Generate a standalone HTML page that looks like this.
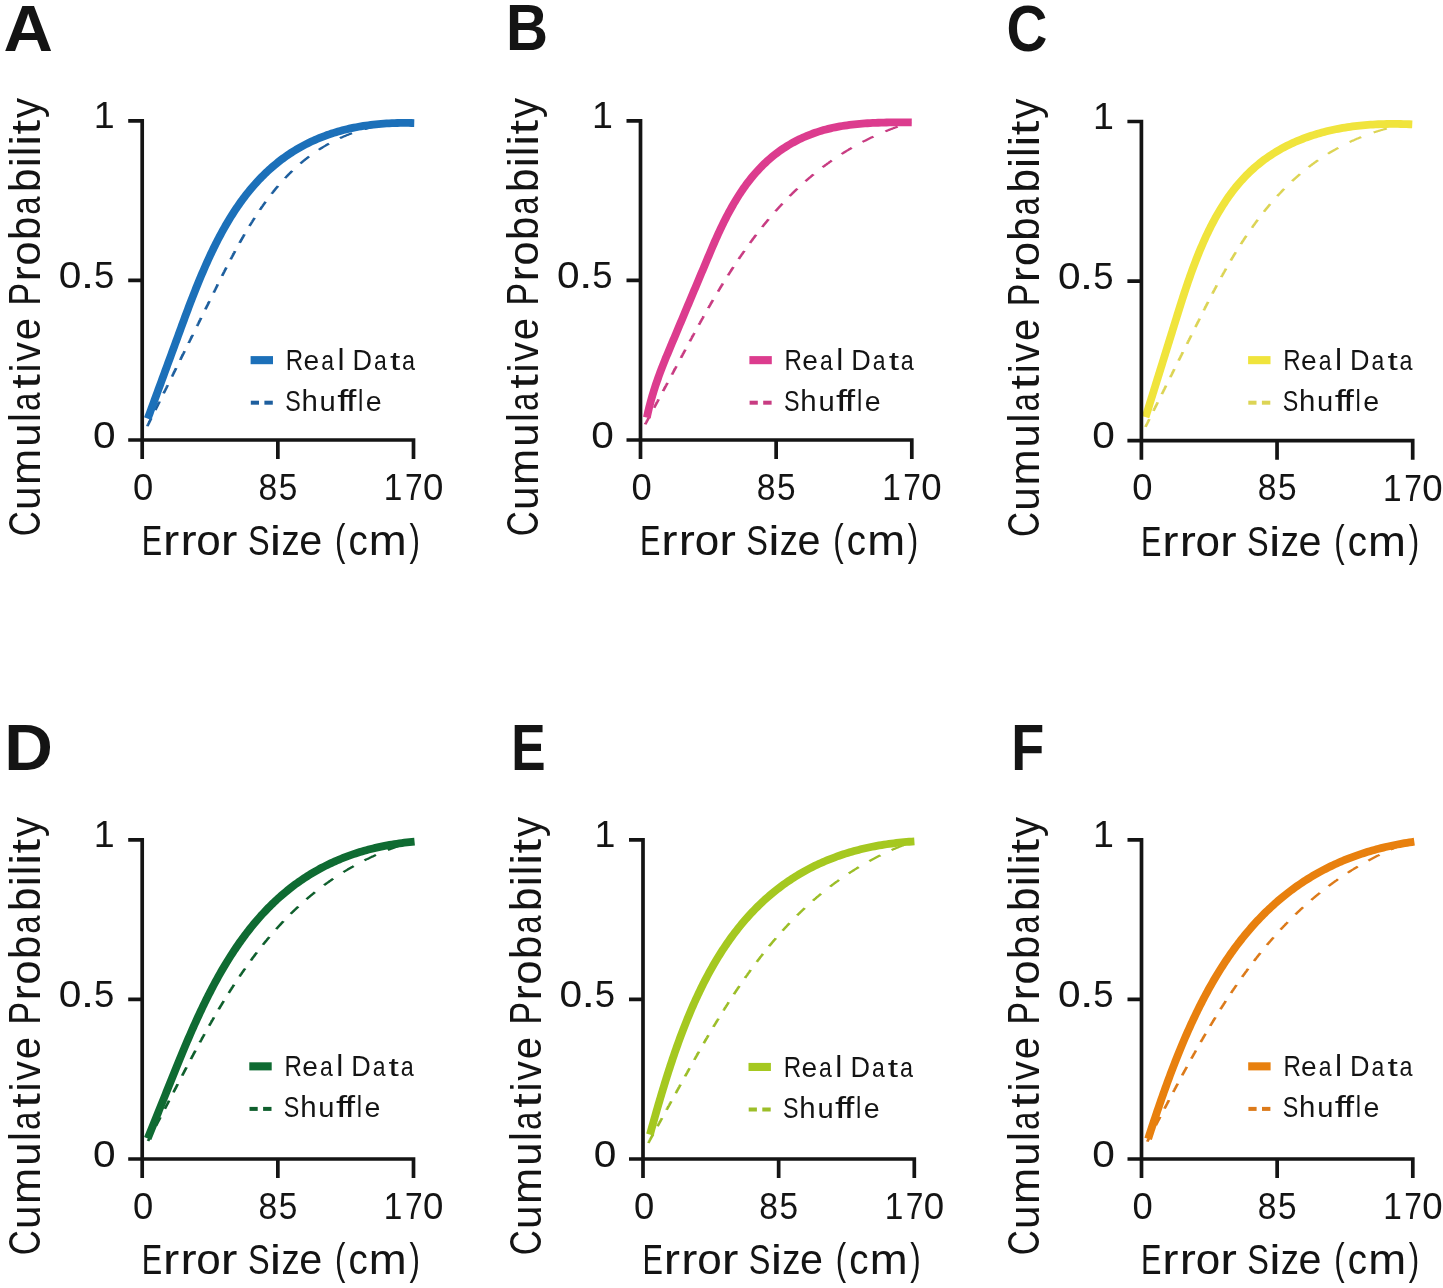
<!DOCTYPE html>
<html><head><meta charset="utf-8"><title>Cumulative probability panels</title>
<style>html,body{margin:0;padding:0;background:#fff;overflow:hidden}svg{display:block;will-change:transform}text{font-family:"Liberation Sans",sans-serif;fill:#141414;font-kerning:none}</style>
</head><body>
<svg xmlns="http://www.w3.org/2000/svg" width="1443" height="1288" viewBox="0 0 1443 1288">
<rect width="1443" height="1288" fill="#fff"/>
<!-- panel A -->
<g transform="scale(1.35,1)"><path d="M109.07,426.25 L109.19,425.93 L109.31,425.62 L109.43,425.30 L109.54,424.98 L109.66,424.67 L109.78,424.35 L109.89,424.03 L110.01,423.71 L110.13,423.40 L110.24,423.08 L110.36,422.76 L110.48,422.45 L110.59,422.13 L110.71,421.81 L110.83,421.50 L110.94,421.18 L111.06,420.86 L111.18,420.54 L111.29,420.23 L111.41,419.91 L111.53,419.59 L111.64,419.28 L111.76,418.96 L111.88,418.64 L111.99,418.33 M115.03,410.08 L115.15,409.77 L115.26,409.45 L115.38,409.13 L115.50,408.81 L115.61,408.50 L115.73,408.18 L115.85,407.86 L115.96,407.55 L116.08,407.23 L116.20,406.91 L116.31,406.60 L116.43,406.28 L116.55,405.96 L116.66,405.64 L116.78,405.33 L116.90,405.01 L117.01,404.69 L117.13,404.38 L117.25,404.06 L117.37,403.74 L117.48,403.43 L117.60,403.11 L117.72,402.79 L117.83,402.47 L117.95,402.16 L118.07,401.84 L118.18,401.52 M121.22,393.28 L121.34,392.96 L121.45,392.65 L121.57,392.33 L121.69,392.01 L121.80,391.70 L121.92,391.38 L122.04,391.06 L122.15,390.74 L122.27,390.43 L122.39,390.11 L122.50,389.79 L122.62,389.48 L122.74,389.16 L122.85,388.84 L122.97,388.53 L123.09,388.21 L123.20,387.89 L123.32,387.57 L123.44,387.26 L123.55,386.94 L123.67,386.62 L123.79,386.31 L123.90,385.99 L124.02,385.67 L124.14,385.36 L124.25,385.04 M127.36,376.61 L127.48,376.29 L127.59,375.97 L127.71,375.65 L127.83,375.34 L127.94,375.02 L128.06,374.70 L128.18,374.39 L128.29,374.07 L128.41,373.75 L128.53,373.44 L128.64,373.12 L128.76,372.80 L128.88,372.48 L128.99,372.17 L129.11,371.85 L129.23,371.53 L129.35,371.22 L129.46,370.90 L129.58,370.58 L129.70,370.27 L129.81,369.95 L129.93,369.63 L130.05,369.31 L130.16,369.00 L130.28,368.68 L130.40,368.36 L130.51,368.05 M133.55,359.80 L133.67,359.49 L133.78,359.17 L133.90,358.85 L134.02,358.54 L134.13,358.22 L134.25,357.90 L134.37,357.58 L134.48,357.27 L134.60,356.95 L134.72,356.63 L134.83,356.32 L134.95,356.00 L135.07,355.68 L135.18,355.37 L135.30,355.05 L135.42,354.73 L135.53,354.41 L135.65,354.10 L135.77,353.78 L135.88,353.46 L136.00,353.15 L136.12,352.83 L136.23,352.51 L136.35,352.19 L136.47,351.88 L136.58,351.56 L136.70,351.24 M139.74,343.00 L139.85,342.68 L139.97,342.37 L140.09,342.05 L140.20,341.73 L140.32,341.42 L140.44,341.10 L140.55,340.78 L140.67,340.47 L140.79,340.15 L140.91,339.83 L141.02,339.51 L141.14,339.20 L141.26,338.88 L141.37,338.56 L141.49,338.25 L141.61,337.93 L141.72,337.61 L141.84,337.30 L141.96,336.98 L142.07,336.66 L142.19,336.34 L142.31,336.03 L142.42,335.71 L142.54,335.39 L142.66,335.08 L142.77,334.76 M145.93,326.20 L146.04,325.88 L146.16,325.57 L146.28,325.25 L146.39,324.93 L146.51,324.61 L146.63,324.30 L146.74,323.98 L146.86,323.66 L146.98,323.35 L147.09,323.03 L147.21,322.71 L147.33,322.40 L147.44,322.08 L147.56,321.76 L147.68,321.44 L147.79,321.13 L147.91,320.81 L148.03,320.49 L148.14,320.18 L148.26,319.86 L148.38,319.54 L148.49,319.22 L148.61,318.91 L148.73,318.59 L148.85,318.27 L148.96,317.96 M152.11,309.40 L152.23,309.08 L152.35,308.76 L152.46,308.45 L152.58,308.13 L152.70,307.81 L152.82,307.50 L152.93,307.18 L153.05,306.86 L153.17,306.54 L153.28,306.23 L153.40,305.91 L153.52,305.59 L153.63,305.28 L153.75,304.96 L153.87,304.64 L153.98,304.32 L154.10,304.01 L154.22,303.69 L154.33,303.37 L154.45,303.06 L154.57,302.74 L154.68,302.42 L154.80,302.11 L154.92,301.79 L155.03,301.47 L155.15,301.15 M158.30,292.60 L158.42,292.28 L158.54,291.96 L158.65,291.64 L158.77,291.33 L158.89,291.01 L159.00,290.69 L159.12,290.38 L159.24,290.06 L159.35,289.74 L159.47,289.42 L159.59,289.11 L159.70,288.79 L159.82,288.47 L159.94,288.16 L160.05,287.84 L160.17,287.52 L160.29,287.21 L160.41,286.89 L160.52,286.57 L160.64,286.26 L160.76,285.94 L160.87,285.62 L160.99,285.31 L161.11,284.99 L161.22,284.67 L161.34,284.36 M164.48,275.97 L164.60,275.65 L164.72,275.34 L164.84,275.02 L164.95,274.71 L165.07,274.39 L165.19,274.08 L165.31,273.77 L165.43,273.45 L165.55,273.14 L165.67,272.82 L165.79,272.51 L165.91,272.20 L166.03,271.88 L166.15,271.57 L166.26,271.26 L166.38,270.94 L166.50,270.63 L166.62,270.32 L166.74,270.00 L166.86,269.69 L166.98,269.38 L167.10,269.06 L167.22,268.75 L167.34,268.44 L167.46,268.13 L167.58,267.81 L167.70,267.50 M170.85,259.41 L170.97,259.10 L171.09,258.79 L171.21,258.48 L171.34,258.17 L171.46,257.86 L171.58,257.55 L171.70,257.24 L171.82,256.93 L171.95,256.62 L172.07,256.31 L172.19,256.00 L172.31,255.69 L172.44,255.38 L172.56,255.07 L172.68,254.76 L172.81,254.46 L172.93,254.15 L173.05,253.84 L173.18,253.53 L173.30,253.22 L173.42,252.91 L173.55,252.61 L173.67,252.30 L173.79,251.99 L173.92,251.68 L174.04,251.38 L174.16,251.07 M177.54,242.81 L177.67,242.51 L177.79,242.20 L177.92,241.90 L178.05,241.59 L178.17,241.29 L178.30,240.99 L178.43,240.68 L178.55,240.38 L178.68,240.08 L178.81,239.78 L178.94,239.47 L179.06,239.17 L179.19,238.87 L179.32,238.57 L179.45,238.26 L179.57,237.96 L179.70,237.66 L179.83,237.36 L179.96,237.06 L180.09,236.76 L180.22,236.46 L180.34,236.15 L180.47,235.85 L180.60,235.55 L180.73,235.25 L180.86,234.95 L180.99,234.65 L181.12,234.35 M184.80,226.03 L184.93,225.73 L185.06,225.44 L185.20,225.14 L185.33,224.85 L185.46,224.55 L185.60,224.26 L185.73,223.97 L185.87,223.67 L186.00,223.38 L186.14,223.09 L186.27,222.80 L186.41,222.50 L186.54,222.21 L186.68,221.92 L186.81,221.63 L186.95,221.34 L187.08,221.04 L187.22,220.75 L187.36,220.46 L187.49,220.17 L187.63,219.88 L187.76,219.59 L187.90,219.30 L188.04,219.01 L188.18,218.72 L188.31,218.43 L188.45,218.14 L188.59,217.85 M192.51,209.86 L192.65,209.57 L192.79,209.29 L192.94,209.01 L193.08,208.73 L193.22,208.45 L193.37,208.17 L193.51,207.89 L193.66,207.61 L193.80,207.33 L193.94,207.05 L194.09,206.77 L194.23,206.49 L194.38,206.21 L194.52,205.93 L194.67,205.65 L194.81,205.37 L194.96,205.10 L195.11,204.82 L195.25,204.54 L195.40,204.27 L195.55,203.99 L195.69,203.71 L195.84,203.44 L195.99,203.16 L196.13,202.88 L196.28,202.61 L196.43,202.33 L196.58,202.06 L196.73,201.78 M201.21,193.79 L201.37,193.52 L201.52,193.26 L201.68,192.99 L201.83,192.73 L201.99,192.47 L202.14,192.20 L202.30,191.94 L202.46,191.68 L202.61,191.41 L202.77,191.15 L202.93,190.89 L203.09,190.63 L203.32,190.23 L203.56,189.84 L203.80,189.45 L204.04,189.06 L204.28,188.67 L204.52,188.28 L204.76,187.90 L205.00,187.51 L205.24,187.12 L205.48,186.74 L205.72,186.35 L205.96,185.97 M211.20,178.09 L211.46,177.72 L211.72,177.36 L211.97,176.99 L212.23,176.63 L212.49,176.27 L212.75,175.90 L213.01,175.54 L213.27,175.18 L213.53,174.82 L213.79,174.47 L214.06,174.11 L214.32,173.75 L214.58,173.40 L214.85,173.04 L215.11,172.69 L215.38,172.33 L215.65,171.98 L215.91,171.63 L216.18,171.28 L216.45,170.93 M222.54,163.48 L222.82,163.16 L223.11,162.83 L223.39,162.50 L223.68,162.18 L223.97,161.86 L224.26,161.53 L224.54,161.21 L224.83,160.89 L225.13,160.57 L225.42,160.25 L225.71,159.94 L226.00,159.62 L226.30,159.30 L226.59,158.99 L226.89,158.68 L227.18,158.37 L227.48,158.05 L227.78,157.74 L228.08,157.43 L228.37,157.13 L228.67,156.82 L228.98,156.51 M236.12,149.78 L236.44,149.50 L236.76,149.23 L237.08,148.95 L237.41,148.67 L237.73,148.40 L238.06,148.12 L238.38,147.85 L238.71,147.58 L239.04,147.31 L239.36,147.04 L239.69,146.78 L240.02,146.51 L240.35,146.24 L240.69,145.98 L241.02,145.72 L241.35,145.46 L241.69,145.20 L242.02,144.94 L242.36,144.68 L242.70,144.42 L243.03,144.17 L243.37,143.91 L243.71,143.66 M251.79,138.18 L252.15,137.96 L252.51,137.74 L252.88,137.52 L253.24,137.30 L253.61,137.08 L253.98,136.87 L254.35,136.65 L254.71,136.44 L255.08,136.23 L255.46,136.02 L255.83,135.81 L256.20,135.60 L256.58,135.39 L256.95,135.19 L257.33,134.98 L257.70,134.78 L258.08,134.58 L258.46,134.38 L258.84,134.18 L259.22,133.98 L259.61,133.79 L259.99,133.59 L260.37,133.40 L260.76,133.21 M270.08,129.13 L270.49,128.97 L270.90,128.82 L271.31,128.66 L271.73,128.51 L272.14,128.36 L272.56,128.21 L272.98,128.06 L273.40,127.92 L273.82,127.77 L274.24,127.63 L274.66,127.48 L275.09,127.35 L275.51,127.21 L275.94,127.07 L276.36,126.93 L276.79,126.80 L277.22,126.67 L277.65,126.54 L278.08,126.40 L278.51,126.28 L278.95,126.15 L279.38,126.03 L279.82,125.90 L280.26,125.78 M290.63,123.41 L291.10,123.33 L291.56,123.24 L292.03,123.17 L292.50,123.09 L292.97,123.01 L293.44,122.93 L293.91,122.86 L294.39,122.79 L294.86,122.72 L295.34,122.65 L295.82,122.58 L296.30,122.52 L296.78,122.45 L297.26,122.39 L297.74,122.33 L298.22,122.27 L298.71,122.21 L299.20,122.16 L299.68,122.10 L300.17,122.05 L300.66,122.00 L301.15,121.95" fill="none" stroke="#1e5f9e" stroke-width="2.1" stroke-linecap="butt" stroke-linejoin="round"/></g>
<g transform="scale(1.0,1)"><path d="M147.71,418.71 L148.47,416.66 L149.22,414.60 L149.98,412.54 L150.73,410.48 L151.49,408.42 L152.24,406.37 L153.00,404.31 L153.75,402.25 L154.51,400.19 L155.26,398.14 L156.01,396.08 L156.84,393.81 L157.60,391.76 L158.35,389.70 L159.11,387.64 L159.86,385.58 L160.62,383.53 L161.37,381.47 L162.13,379.41 L162.88,377.35 L163.64,375.29 L164.39,373.24 L165.15,371.18 L165.90,369.12 L166.66,367.06 L167.41,365.01 L168.16,362.95 L168.92,360.89 L169.67,358.83 L170.43,356.78 L171.18,354.72 L171.94,352.66 L172.69,350.60 L173.52,348.34 L174.28,346.28 L175.03,344.22 L175.79,342.17 L176.54,340.11 L177.30,338.05 L178.05,335.99 L178.81,333.93 L179.56,331.88 L180.31,329.82 L181.07,327.76 L181.82,325.70 L182.58,323.65 L183.33,321.59 L184.09,319.53 L184.85,317.48 L185.61,315.42 L186.37,313.38 L187.14,311.33 L187.90,309.28 L188.67,307.24 L189.45,305.20 L190.30,302.96 L191.08,300.93 L191.86,298.90 L192.65,296.88 L193.44,294.85 L194.23,292.83 L195.03,290.82 L195.83,288.81 L196.64,286.80 L197.45,284.80 L198.26,282.80 L199.08,280.80 L199.90,278.81 L200.73,276.83 L201.56,274.85 L202.40,272.88 L203.24,270.91 L204.09,268.94 L204.95,266.99 L205.81,265.03 L206.67,263.09 L207.55,261.15 L208.51,259.02 L209.40,257.09 L210.29,255.18 L211.19,253.26 L212.10,251.36 L213.01,249.46 L213.93,247.57 L214.86,245.68 L215.80,243.81 L216.75,241.94 L217.70,240.08 L218.66,238.23 L219.63,236.39 L220.61,234.55 L221.59,232.73 L222.59,230.91 L223.59,229.10 L224.61,227.30 L225.63,225.52 L226.67,223.74 L227.71,221.97 L228.76,220.21 L229.93,218.28 L231.01,216.55 L232.09,214.82 L233.19,213.10 L234.29,211.40 L235.41,209.70 L236.54,208.02 L237.68,206.34 L238.83,204.68 L239.99,203.03 L241.17,201.40 L242.35,199.77 L243.55,198.16 L244.76,196.56 L245.99,194.97 L247.23,193.39 L248.47,191.83 L249.74,190.28 L251.01,188.74 L252.30,187.22 L253.60,185.71 L254.92,184.21 L256.39,182.58 L257.73,181.12 L259.09,179.67 L260.47,178.23 L261.85,176.80 L263.26,175.39 L264.68,174.00 L266.11,172.62 L267.56,171.26 L269.02,169.91 L270.50,168.58 L272.00,167.26 L273.51,165.96 L275.04,164.68 L276.58,163.41 L278.14,162.15 L279.72,160.92 L281.31,159.70 L282.92,158.50 L284.55,157.31 L286.19,156.14 L287.86,154.99 L289.70,153.75 L291.40,152.63 L293.12,151.54 L294.85,150.46 L296.61,149.40 L298.38,148.36 L300.17,147.34 L301.97,146.33 L303.80,145.35 L305.65,144.38 L307.51,143.43 L309.39,142.50 L311.30,141.59 L313.22,140.70 L315.16,139.83 L317.12,138.98 L319.11,138.15 L321.11,137.34 L323.13,136.55 L325.18,135.78 L327.24,135.04 L329.32,134.31 L331.64,133.53 L333.77,132.85 L335.92,132.19 L338.09,131.55 L340.29,130.93 L342.50,130.33 L344.74,129.75 L347.00,129.20 L349.28,128.67 L351.58,128.16 L353.91,127.68 L356.26,127.21 L358.63,126.77 L361.02,126.35 L363.44,125.96 L365.88,125.59 L368.35,125.24 L370.83,124.91 L373.35,124.61 L375.88,124.34 L378.44,124.08 L381.02,123.85 L383.89,123.63 L386.53,123.45 L389.19,123.30 L391.87,123.17 L394.58,123.07 L397.31,122.99 L400.07,122.94 L402.86,122.91 L405.67,122.91 L408.50,122.93 L411.36,122.98 L414.25,123.05" fill="none" stroke="#1c70b9" stroke-width="7.8" stroke-linecap="butt" stroke-linejoin="round"/></g>
<path d="M142.20,118.95 L142.20,459.00 M128.20,440.00 L415.35,440.00 M128.20,120.80 L144.05,120.80 M128.20,280.40 L144.05,280.40 M277.85,438.15 L277.85,459.00 M413.50,438.15 L413.50,459.00" fill="none" stroke="#141414" stroke-width="3.7" stroke-linecap="butt"/>
<text x="93.74" y="127.80" font-size="36.60" textLength="20.90" lengthAdjust="spacingAndGlyphs">1</text>
<text x="58.81" y="287.80" font-size="36.60" textLength="22.57" lengthAdjust="spacingAndGlyphs">0</text>
<text x="80.40" y="287.80" font-size="36.60" textLength="14.01" lengthAdjust="spacingAndGlyphs">.</text>
<text x="93.94" y="287.80" font-size="36.60" textLength="20.29" lengthAdjust="spacingAndGlyphs">5</text>
<text x="93.01" y="447.50" font-size="36.60" textLength="22.57" lengthAdjust="spacingAndGlyphs">0</text>
<text x="133.08" y="499.60" font-size="36.60" textLength="20.24" lengthAdjust="spacingAndGlyphs">0</text>
<text x="258.44" y="499.60" font-size="36.60" textLength="18.73" lengthAdjust="spacingAndGlyphs">8</text>
<text x="278.77" y="499.60" font-size="36.60" textLength="18.53" lengthAdjust="spacingAndGlyphs">5</text>
<text x="383.86" y="499.80" font-size="36.60" textLength="18.57" lengthAdjust="spacingAndGlyphs">1</text>
<text x="404.98" y="499.80" font-size="36.60" textLength="17.62" lengthAdjust="spacingAndGlyphs">7</text>
<text x="422.97" y="499.80" font-size="36.60" textLength="20.36" lengthAdjust="spacingAndGlyphs">0</text>
<text x="141.69" y="554.80" font-size="43.30" textLength="20.43" lengthAdjust="spacingAndGlyphs">E</text>
<text x="163.06" y="554.80" font-size="41.90" textLength="16.25" lengthAdjust="spacingAndGlyphs">r</text>
<text x="180.49" y="554.80" font-size="41.90" textLength="16.12" lengthAdjust="spacingAndGlyphs">r</text>
<text x="196.35" y="554.80" font-size="41.90" textLength="24.50" lengthAdjust="spacingAndGlyphs">o</text>
<text x="220.88" y="554.80" font-size="41.90" textLength="16.65" lengthAdjust="spacingAndGlyphs">r</text>
<text x="247.92" y="554.80" font-size="43.30" textLength="21.67" lengthAdjust="spacingAndGlyphs">S</text>
<text x="269.88" y="554.80" font-size="40.60" textLength="11.37" lengthAdjust="spacingAndGlyphs">i</text>
<text x="281.53" y="554.80" font-size="41.90" textLength="18.19" lengthAdjust="spacingAndGlyphs">z</text>
<text x="299.24" y="554.80" font-size="41.90" textLength="22.99" lengthAdjust="spacingAndGlyphs">e</text>
<text x="334.96" y="554.80" font-size="43.70" textLength="10.42" lengthAdjust="spacingAndGlyphs">(</text>
<text x="348.46" y="554.80" font-size="41.90" textLength="19.25" lengthAdjust="spacingAndGlyphs">c</text>
<text x="368.88" y="554.80" font-size="41.90" textLength="37.92" lengthAdjust="spacingAndGlyphs">m</text>
<text x="409.52" y="554.80" font-size="43.70" textLength="10.42" lengthAdjust="spacingAndGlyphs">)</text>
<text transform="translate(40.00,536.26) rotate(-90)" x="0" y="0" font-size="43.50" textLength="25.09" lengthAdjust="spacingAndGlyphs">C</text>
<text transform="translate(40.00,509.95) rotate(-90)" x="0" y="0" font-size="42.20" textLength="23.57" lengthAdjust="spacingAndGlyphs">u</text>
<text transform="translate(40.00,484.89) rotate(-90)" x="0" y="0" font-size="42.20" textLength="36.26" lengthAdjust="spacingAndGlyphs">m</text>
<text transform="translate(40.00,446.71) rotate(-90)" x="0" y="0" font-size="42.20" textLength="23.17" lengthAdjust="spacingAndGlyphs">u</text>
<text transform="translate(40.00,421.88) rotate(-90)" x="0" y="0" font-size="44.30" textLength="8.85" lengthAdjust="spacingAndGlyphs">l</text>
<text transform="translate(40.00,410.91) rotate(-90)" x="0" y="0" font-size="42.20" textLength="18.41" lengthAdjust="spacingAndGlyphs">a</text>
<text transform="translate(40.00,388.79) rotate(-90)" x="0" y="0" font-size="40.90" textLength="14.58" lengthAdjust="spacingAndGlyphs">t</text>
<text transform="translate(40.00,372.19) rotate(-90)" x="0" y="0" font-size="42.80" textLength="8.59" lengthAdjust="spacingAndGlyphs">i</text>
<text transform="translate(40.00,361.73) rotate(-90)" x="0" y="0" font-size="42.20" textLength="19.57" lengthAdjust="spacingAndGlyphs">v</text>
<text transform="translate(40.00,340.29) rotate(-90)" x="0" y="0" font-size="42.20" textLength="22.16" lengthAdjust="spacingAndGlyphs">e</text>
<text transform="translate(40.00,305.47) rotate(-90)" x="0" y="0" font-size="43.50" textLength="22.56" lengthAdjust="spacingAndGlyphs">P</text>
<text transform="translate(40.00,281.18) rotate(-90)" x="0" y="0" font-size="42.20" textLength="14.92" lengthAdjust="spacingAndGlyphs">r</text>
<text transform="translate(40.00,265.42) rotate(-90)" x="0" y="0" font-size="42.20" textLength="24.15" lengthAdjust="spacingAndGlyphs">o</text>
<text transform="translate(40.00,240.01) rotate(-90)" x="0" y="0" font-size="44.30" textLength="23.37" lengthAdjust="spacingAndGlyphs">b</text>
<text transform="translate(40.00,214.79) rotate(-90)" x="0" y="0" font-size="42.20" textLength="18.19" lengthAdjust="spacingAndGlyphs">a</text>
<text transform="translate(40.00,191.92) rotate(-90)" x="0" y="0" font-size="44.30" textLength="23.50" lengthAdjust="spacingAndGlyphs">b</text>
<text transform="translate(40.00,167.24) rotate(-90)" x="0" y="0" font-size="42.80" textLength="10.11" lengthAdjust="spacingAndGlyphs">i</text>
<text transform="translate(40.00,156.31) rotate(-90)" x="0" y="0" font-size="44.30" textLength="9.61" lengthAdjust="spacingAndGlyphs">l</text>
<text transform="translate(40.00,145.62) rotate(-90)" x="0" y="0" font-size="42.80" textLength="10.36" lengthAdjust="spacingAndGlyphs">i</text>
<text transform="translate(40.00,134.59) rotate(-90)" x="0" y="0" font-size="40.90" textLength="14.58" lengthAdjust="spacingAndGlyphs">t</text>
<text transform="translate(40.00,118.10) rotate(-90)" x="0" y="0" font-size="42.20" textLength="20.08" lengthAdjust="spacingAndGlyphs">y</text>
<rect x="250.60" y="356.10" width="22.4" height="8.1" fill="#1c70b9"/>
<rect x="250.80" y="400.70" width="8.2" height="4.0" fill="#1e5f9e"/>
<rect x="264.40" y="400.70" width="8.4" height="4.0" fill="#1e5f9e"/>
<text x="285.82" y="369.80" font-size="28.90" textLength="17.39" lengthAdjust="spacingAndGlyphs">R</text>
<text x="303.50" y="369.80" font-size="27.30" textLength="15.64" lengthAdjust="spacingAndGlyphs">e</text>
<text x="321.22" y="369.80" font-size="27.30" textLength="12.78" lengthAdjust="spacingAndGlyphs">a</text>
<text x="337.45" y="369.80" font-size="29.90" textLength="7.08" lengthAdjust="spacingAndGlyphs">l</text>
<text x="352.48" y="369.80" font-size="28.90" textLength="19.51" lengthAdjust="spacingAndGlyphs">D</text>
<text x="374.02" y="369.80" font-size="27.30" textLength="12.78" lengthAdjust="spacingAndGlyphs">a</text>
<text x="389.94" y="369.80" font-size="26.40" textLength="10.34" lengthAdjust="spacingAndGlyphs">t</text>
<text x="402.01" y="369.80" font-size="27.30" textLength="12.99" lengthAdjust="spacingAndGlyphs">a</text>
<text x="285.14" y="410.80" font-size="28.90" textLength="15.53" lengthAdjust="spacingAndGlyphs">S</text>
<text x="301.46" y="410.80" font-size="29.90" textLength="16.35" lengthAdjust="spacingAndGlyphs">h</text>
<text x="319.60" y="410.80" font-size="27.30" textLength="16.23" lengthAdjust="spacingAndGlyphs">u</text>
<text x="337.23" y="410.80" font-size="29.90" textLength="11.11" lengthAdjust="spacingAndGlyphs">f</text>
<text x="346.07" y="410.80" font-size="29.90" textLength="10.37" lengthAdjust="spacingAndGlyphs">f</text>
<text x="358.09" y="410.80" font-size="29.90" textLength="5.31" lengthAdjust="spacingAndGlyphs">l</text>
<text x="365.89" y="410.80" font-size="27.30" textLength="15.88" lengthAdjust="spacingAndGlyphs">e</text>
<text x="3.40" y="50.50" font-size="64.70" font-weight="bold" textLength="49.41" lengthAdjust="spacingAndGlyphs">A</text>
<!-- panel B -->
<g transform="scale(1.35,1)"><path d="M477.90,424.39 L478.02,424.09 L478.15,423.78 L478.27,423.47 L478.39,423.16 L478.52,422.85 L478.64,422.54 L478.76,422.24 L478.88,421.93 L479.01,421.62 L479.13,421.31 L479.25,421.00 L479.37,420.69 L479.50,420.39 L479.62,420.08 L479.74,419.77 L479.87,419.46 L479.99,419.15 L480.11,418.84 L480.23,418.54 L480.36,418.23 L480.48,417.92 L480.60,417.61 L480.73,417.30 L480.85,416.99 L480.97,416.69 L481.09,416.38 L481.22,416.07 M484.53,407.75 L484.65,407.44 L484.78,407.13 L484.90,406.82 L485.02,406.51 L485.14,406.21 L485.27,405.90 L485.39,405.59 L485.51,405.28 L485.63,404.97 L485.76,404.66 L485.88,404.36 L486.00,404.05 L486.13,403.74 L486.25,403.43 L486.37,403.12 L486.49,402.81 L486.62,402.51 L486.74,402.20 L486.86,401.89 L486.99,401.58 L487.11,401.27 L487.23,400.96 L487.35,400.66 L487.48,400.35 L487.60,400.04 L487.72,399.73 L487.84,399.42 M491.16,391.10 L491.28,390.79 L491.40,390.48 L491.53,390.17 L491.65,389.87 L491.77,389.56 L491.90,389.25 L492.02,388.94 L492.14,388.63 L492.26,388.32 L492.39,388.02 L492.51,387.71 L492.63,387.40 L492.75,387.09 L492.88,386.78 L493.00,386.48 L493.12,386.17 L493.25,385.86 L493.37,385.55 L493.49,385.24 L493.61,384.93 L493.74,384.63 L493.86,384.32 L493.98,384.01 L494.10,383.70 L494.23,383.39 L494.35,383.08 L494.47,382.78 M497.74,374.58 L497.86,374.27 L497.98,373.96 L498.11,373.65 L498.23,373.34 L498.35,373.03 L498.47,372.73 L498.60,372.42 L498.72,372.11 L498.84,371.80 L498.97,371.49 L499.09,371.18 L499.21,370.88 L499.33,370.57 L499.46,370.26 L499.58,369.95 L499.70,369.64 L499.82,369.33 L499.95,369.03 L500.07,368.72 L500.19,368.41 L500.32,368.10 L500.44,367.79 L500.56,367.49 L500.68,367.18 L500.81,366.87 L500.93,366.56 L501.05,366.25 M504.37,357.93 L504.49,357.62 L504.61,357.31 L504.73,357.00 L504.86,356.70 L504.98,356.39 L505.10,356.08 L505.23,355.77 L505.35,355.46 L505.47,355.15 L505.59,354.85 L505.72,354.54 L505.84,354.23 L505.96,353.92 L506.08,353.61 L506.21,353.30 L506.33,353.00 L506.45,352.69 L506.58,352.38 L506.70,352.07 L506.82,351.76 L506.94,351.45 L507.07,351.15 L507.19,350.84 L507.31,350.53 L507.43,350.22 L507.56,349.91 L507.68,349.61 M511.00,341.29 L511.12,340.98 L511.25,340.67 L511.37,340.37 L511.49,340.06 L511.62,339.75 L511.74,339.44 L511.86,339.14 L511.99,338.83 L512.11,338.52 L512.23,338.22 L512.36,337.91 L512.48,337.60 L512.61,337.30 L512.73,336.99 L512.85,336.68 L512.98,336.37 L513.10,336.07 L513.22,335.76 L513.35,335.45 L513.47,335.15 L513.60,334.84 L513.72,334.53 L513.84,334.23 L513.97,333.92 L514.09,333.61 L514.22,333.31 L514.34,333.00 M517.71,324.75 L517.83,324.45 L517.96,324.14 L518.08,323.84 L518.21,323.53 L518.34,323.23 L518.46,322.92 L518.59,322.62 L518.71,322.31 L518.84,322.01 L518.96,321.70 L519.09,321.40 L519.21,321.10 L519.34,320.79 L519.47,320.49 L519.59,320.18 L519.72,319.88 L519.84,319.58 L519.97,319.27 L520.10,318.97 L520.22,318.66 L520.35,318.36 L520.48,318.06 L520.60,317.75 L520.73,317.45 L520.85,317.15 L520.98,316.84 L521.11,316.54 L521.23,316.24 M524.67,308.08 L524.80,307.78 L524.93,307.48 L525.06,307.18 L525.18,306.88 L525.31,306.58 L525.44,306.28 L525.57,305.98 L525.70,305.68 L525.83,305.38 L525.96,305.08 L526.08,304.77 L526.21,304.47 L526.34,304.17 L526.47,303.87 L526.60,303.58 L526.73,303.28 L526.86,302.98 L526.99,302.68 L527.12,302.38 L527.25,302.08 L527.38,301.78 L527.50,301.48 L527.63,301.18 L527.76,300.88 L527.89,300.58 L528.02,300.28 L528.15,299.98 M531.81,291.65 L531.95,291.36 L532.08,291.06 L532.21,290.77 L532.34,290.47 L532.47,290.18 L532.61,289.88 L532.74,289.58 L532.87,289.29 L533.00,288.99 L533.14,288.70 L533.27,288.40 L533.40,288.11 L533.53,287.81 L533.69,287.46 L533.85,287.11 L534.01,286.75 L534.14,286.46 L534.28,286.16 L534.41,285.87 L534.54,285.58 L534.68,285.28 L534.81,284.99 L534.94,284.69 L535.08,284.40 L535.21,284.11 L535.35,283.81 L535.48,283.52 M539.26,275.36 L539.40,275.07 L539.54,274.78 L539.67,274.49 L539.81,274.20 L539.95,273.91 L540.08,273.62 L540.22,273.33 L540.36,273.04 L540.49,272.75 L540.63,272.46 L540.77,272.17 L540.90,271.88 L541.04,271.60 L541.18,271.31 L541.32,271.02 L541.45,270.73 L541.59,270.44 L541.73,270.16 L541.87,269.87 L542.01,269.58 L542.14,269.29 L542.28,269.01 L542.42,268.72 L542.56,268.43 L542.70,268.15 L542.84,267.86 L542.98,267.57 L543.12,267.29 L543.25,267.00 M547.19,259.03 L547.33,258.75 L547.47,258.47 L547.61,258.19 L547.75,257.91 L547.90,257.62 L548.04,257.34 L548.18,257.06 L548.32,256.78 L548.47,256.50 L548.61,256.22 L548.75,255.94 L548.90,255.66 L549.04,255.37 L549.18,255.09 L549.33,254.81 L549.47,254.53 L549.61,254.25 L549.76,253.97 L549.90,253.69 L550.04,253.41 L550.19,253.13 L550.33,252.86 L550.48,252.58 L550.62,252.30 L550.77,252.02 L550.91,251.74 L551.05,251.46 L551.20,251.18 L551.34,250.90 M555.60,242.90 L555.75,242.63 L555.90,242.35 L556.05,242.08 L556.19,241.81 L556.34,241.54 L556.49,241.26 L556.64,240.99 L556.79,240.72 L556.94,240.45 L557.09,240.17 L557.24,239.90 L557.39,239.63 L557.54,239.36 L557.69,239.09 L557.84,238.82 L557.99,238.55 L558.14,238.27 L558.29,238.00 L558.44,237.73 L558.59,237.46 L558.74,237.19 L558.89,236.92 L559.05,236.65 L559.20,236.38 L559.35,236.11 L559.50,235.84 L559.65,235.58 L559.80,235.31 L559.96,235.04 L560.11,234.77 M564.58,227.06 L564.73,226.79 L564.89,226.53 L565.05,226.27 L565.20,226.00 L565.36,225.74 L565.52,225.48 L565.75,225.09 L565.99,224.69 L566.22,224.30 L566.46,223.91 L566.70,223.52 L566.93,223.13 L567.17,222.74 L567.41,222.35 L567.65,221.96 L567.88,221.57 L568.12,221.18 L568.36,220.79 L568.60,220.40 L568.84,220.02 L569.08,219.63 L569.32,219.24 M574.44,211.23 L574.69,210.85 L574.94,210.48 L575.19,210.10 L575.44,209.72 L575.69,209.35 L575.94,208.98 L576.19,208.60 L576.44,208.23 L576.69,207.86 L576.94,207.48 L577.19,207.11 L577.44,206.74 L577.69,206.37 L577.94,206.00 L578.20,205.63 L578.40,205.33 L578.60,205.04 L578.81,204.74 L579.06,204.38 L579.31,204.01 L579.57,203.64 M585.00,196.05 L585.26,195.69 L585.53,195.33 L585.79,194.98 L586.06,194.62 L586.32,194.27 L586.59,193.92 L586.85,193.56 L587.12,193.21 L587.38,192.86 L587.65,192.51 L587.92,192.16 L588.18,191.81 L588.45,191.46 L588.72,191.11 L588.99,190.76 L589.26,190.41 L589.52,190.07 L589.79,189.72 L590.06,189.37 L590.33,189.03 L590.61,188.68 M596.67,181.22 L596.95,180.89 L597.23,180.56 L597.51,180.23 L597.79,179.90 L598.07,179.57 L598.36,179.24 L598.64,178.91 L598.92,178.58 L599.21,178.25 L599.49,177.93 L599.78,177.60 L600.06,177.27 L600.35,176.95 L600.63,176.62 L600.92,176.30 L601.21,175.97 L601.49,175.65 L601.78,175.33 L602.07,175.01 L602.36,174.69 L602.65,174.37 M609.42,167.16 L609.72,166.85 L610.02,166.55 L610.32,166.24 L610.63,165.94 L610.93,165.64 L611.23,165.33 L611.53,165.03 L611.84,164.73 L612.14,164.43 L612.45,164.13 L612.75,163.83 L613.06,163.53 L613.36,163.23 L613.67,162.94 L613.97,162.64 L614.28,162.34 L614.59,162.05 L614.90,161.75 L615.21,161.46 L615.52,161.16 L615.82,160.87 L616.13,160.58 M623.40,154.04 L623.73,153.76 L624.05,153.49 L624.37,153.21 L624.69,152.94 L625.02,152.66 L625.34,152.39 L625.67,152.12 L625.99,151.85 L626.32,151.58 L626.65,151.31 L626.97,151.04 L627.30,150.77 L627.63,150.50 L627.96,150.23 L628.29,149.97 L628.62,149.70 L628.95,149.44 L629.28,149.17 L629.61,148.91 L629.94,148.65 L630.28,148.39 L630.61,148.12 L630.94,147.86 M638.90,141.97 L639.25,141.73 L639.59,141.48 L639.94,141.24 L640.29,141.00 L640.64,140.76 L640.99,140.52 L641.34,140.28 L641.69,140.05 L642.04,139.81 L642.39,139.57 L642.74,139.34 L643.10,139.10 L643.45,138.87 L643.80,138.64 L644.16,138.40 L644.51,138.17 L644.87,137.94 L645.23,137.71 L645.58,137.48 L645.94,137.25 L646.30,137.03 L646.66,136.80 L647.02,136.57 M655.81,131.38 L656.18,131.17 L656.56,130.97 L656.93,130.76 L657.31,130.56 L657.68,130.35 L658.06,130.15 L658.44,129.95 L658.81,129.75 L659.19,129.55 L659.57,129.35 L659.95,129.15 L660.33,128.96 L660.71,128.76 L661.10,128.56 L661.48,128.37 L661.86,128.17 L662.24,127.98 L662.63,127.79 L663.01,127.60 L663.40,127.40 L663.78,127.21 L664.17,127.03 L664.56,126.84 L664.94,126.65 M674.44,122.40 L674.84,122.23" fill="none" stroke="#c83c82" stroke-width="2.1" stroke-linecap="butt" stroke-linejoin="round"/></g>
<g transform="scale(1.0,1)"><path d="M646.86,417.56 L647.36,415.25 L647.87,412.96 L648.39,410.69 L648.93,408.43 L649.49,406.18 L650.07,403.96 L650.65,401.74 L651.26,399.55 L651.88,397.36 L652.51,395.19 L653.15,393.04 L653.88,390.68 L654.55,388.55 L655.23,386.43 L655.93,384.33 L656.64,382.24 L657.36,380.15 L658.09,378.08 L658.82,376.02 L659.57,373.97 L660.33,371.92 L661.10,369.89 L661.87,367.86 L662.66,365.84 L663.45,363.83 L664.25,361.83 L665.05,359.84 L665.87,357.85 L666.68,355.86 L667.51,353.89 L668.34,351.91 L669.16,349.94 L669.99,347.97 L670.90,345.80 L671.73,343.82 L672.56,341.85 L673.39,339.88 L674.22,337.91 L675.05,335.93 L675.88,333.96 L676.71,331.99 L677.54,330.02 L678.36,328.04 L679.19,326.07 L680.02,324.10 L680.85,322.13 L681.68,320.15 L682.51,318.18 L683.34,316.21 L684.17,314.24 L684.99,312.26 L685.82,310.29 L686.65,308.32 L687.48,306.34 L688.31,304.37 L689.22,302.20 L690.05,300.23 L690.88,298.26 L691.71,296.28 L692.54,294.31 L693.37,292.34 L694.19,290.37 L695.02,288.39 L695.85,286.42 L696.68,284.45 L697.51,282.48 L698.34,280.50 L699.17,278.53 L700.00,276.56 L700.82,274.59 L701.65,272.61 L702.48,270.64 L703.31,268.67 L704.14,266.70 L704.97,264.72 L705.80,262.75 L706.63,260.78 L707.54,258.61 L708.37,256.63 L709.19,254.66 L710.02,252.69 L710.85,250.72 L711.69,248.75 L712.52,246.79 L713.37,244.83 L714.22,242.87 L715.07,240.93 L715.93,238.99 L716.79,237.05 L717.67,235.12 L718.55,233.20 L719.43,231.28 L720.32,229.37 L721.23,227.47 L722.13,225.58 L723.05,223.70 L723.98,221.82 L724.91,219.95 L725.86,218.10 L726.90,216.06 L727.87,214.23 L728.84,212.40 L729.83,210.58 L730.82,208.78 L731.83,206.98 L732.85,205.20 L733.88,203.42 L734.92,201.66 L735.97,199.92 L737.04,198.18 L738.12,196.46 L739.21,194.75 L740.31,193.05 L741.43,191.37 L742.57,189.71 L743.71,188.05 L744.88,186.41 L746.06,184.79 L747.25,183.18 L748.46,181.59 L749.68,180.01 L751.05,178.30 L752.31,176.75 L753.58,175.23 L754.88,173.72 L756.19,172.23 L757.52,170.76 L758.86,169.30 L760.23,167.87 L761.61,166.45 L763.01,165.05 L764.44,163.67 L765.88,162.31 L767.34,160.97 L768.82,159.65 L770.31,158.34 L771.83,157.06 L773.37,155.80 L774.93,154.56 L776.51,153.34 L778.12,152.14 L779.74,150.96 L781.38,149.80 L783.22,148.55 L784.91,147.44 L786.62,146.35 L788.35,145.28 L790.11,144.24 L791.89,143.22 L793.69,142.22 L795.51,141.24 L797.36,140.29 L799.23,139.36 L801.13,138.45 L803.05,137.57 L804.99,136.71 L806.96,135.88 L808.96,135.07 L810.97,134.29 L813.02,133.53 L815.09,132.80 L817.18,132.09 L819.30,131.41 L821.44,130.75 L823.62,130.12 L826.04,129.46 L828.26,128.89 L830.52,128.34 L832.80,127.82 L835.11,127.33 L837.45,126.87 L839.81,126.43 L842.20,126.02 L844.62,125.64 L847.07,125.28 L849.53,124.95 L852.03,124.64 L854.55,124.36 L857.09,124.10 L859.65,123.86 L862.23,123.64 L864.84,123.44 L867.46,123.26 L870.10,123.11 L872.77,122.96 L875.44,122.84 L878.14,122.73 L881.12,122.64 L883.85,122.56 L886.59,122.50 L889.34,122.45 L892.11,122.42 L894.88,122.39 L897.67,122.38 L900.47,122.38 L903.28,122.39 L906.10,122.40 L908.92,122.42 L911.75,122.45" fill="none" stroke="#dc3c8e" stroke-width="7.8" stroke-linecap="butt" stroke-linejoin="round"/></g>
<path d="M640.50,118.95 L640.50,459.00 M626.50,440.00 L913.65,440.00 M626.50,120.80 L642.35,120.80 M626.50,280.40 L642.35,280.40 M776.15,438.15 L776.15,459.00 M911.80,438.15 L911.80,459.00" fill="none" stroke="#141414" stroke-width="3.7" stroke-linecap="butt"/>
<text x="592.04" y="127.80" font-size="36.60" textLength="20.90" lengthAdjust="spacingAndGlyphs">1</text>
<text x="557.11" y="287.80" font-size="36.60" textLength="22.57" lengthAdjust="spacingAndGlyphs">0</text>
<text x="578.70" y="287.80" font-size="36.60" textLength="14.01" lengthAdjust="spacingAndGlyphs">.</text>
<text x="592.24" y="287.80" font-size="36.60" textLength="20.29" lengthAdjust="spacingAndGlyphs">5</text>
<text x="591.31" y="447.50" font-size="36.60" textLength="22.57" lengthAdjust="spacingAndGlyphs">0</text>
<text x="631.38" y="499.60" font-size="36.60" textLength="20.24" lengthAdjust="spacingAndGlyphs">0</text>
<text x="756.74" y="499.60" font-size="36.60" textLength="18.73" lengthAdjust="spacingAndGlyphs">8</text>
<text x="777.07" y="499.60" font-size="36.60" textLength="18.53" lengthAdjust="spacingAndGlyphs">5</text>
<text x="882.16" y="499.80" font-size="36.60" textLength="18.57" lengthAdjust="spacingAndGlyphs">1</text>
<text x="903.28" y="499.80" font-size="36.60" textLength="17.62" lengthAdjust="spacingAndGlyphs">7</text>
<text x="921.27" y="499.80" font-size="36.60" textLength="20.36" lengthAdjust="spacingAndGlyphs">0</text>
<text x="639.99" y="554.80" font-size="43.30" textLength="20.43" lengthAdjust="spacingAndGlyphs">E</text>
<text x="661.36" y="554.80" font-size="41.90" textLength="16.25" lengthAdjust="spacingAndGlyphs">r</text>
<text x="678.79" y="554.80" font-size="41.90" textLength="16.12" lengthAdjust="spacingAndGlyphs">r</text>
<text x="694.65" y="554.80" font-size="41.90" textLength="24.50" lengthAdjust="spacingAndGlyphs">o</text>
<text x="719.18" y="554.80" font-size="41.90" textLength="16.65" lengthAdjust="spacingAndGlyphs">r</text>
<text x="746.22" y="554.80" font-size="43.30" textLength="21.67" lengthAdjust="spacingAndGlyphs">S</text>
<text x="768.18" y="554.80" font-size="40.60" textLength="11.37" lengthAdjust="spacingAndGlyphs">i</text>
<text x="779.83" y="554.80" font-size="41.90" textLength="18.19" lengthAdjust="spacingAndGlyphs">z</text>
<text x="797.54" y="554.80" font-size="41.90" textLength="22.99" lengthAdjust="spacingAndGlyphs">e</text>
<text x="833.26" y="554.80" font-size="43.70" textLength="10.42" lengthAdjust="spacingAndGlyphs">(</text>
<text x="846.76" y="554.80" font-size="41.90" textLength="19.25" lengthAdjust="spacingAndGlyphs">c</text>
<text x="867.18" y="554.80" font-size="41.90" textLength="37.92" lengthAdjust="spacingAndGlyphs">m</text>
<text x="907.82" y="554.80" font-size="43.70" textLength="10.42" lengthAdjust="spacingAndGlyphs">)</text>
<text transform="translate(538.30,536.26) rotate(-90)" x="0" y="0" font-size="43.50" textLength="25.09" lengthAdjust="spacingAndGlyphs">C</text>
<text transform="translate(538.30,509.95) rotate(-90)" x="0" y="0" font-size="42.20" textLength="23.57" lengthAdjust="spacingAndGlyphs">u</text>
<text transform="translate(538.30,484.89) rotate(-90)" x="0" y="0" font-size="42.20" textLength="36.26" lengthAdjust="spacingAndGlyphs">m</text>
<text transform="translate(538.30,446.71) rotate(-90)" x="0" y="0" font-size="42.20" textLength="23.17" lengthAdjust="spacingAndGlyphs">u</text>
<text transform="translate(538.30,421.88) rotate(-90)" x="0" y="0" font-size="44.30" textLength="8.85" lengthAdjust="spacingAndGlyphs">l</text>
<text transform="translate(538.30,410.91) rotate(-90)" x="0" y="0" font-size="42.20" textLength="18.41" lengthAdjust="spacingAndGlyphs">a</text>
<text transform="translate(538.30,388.79) rotate(-90)" x="0" y="0" font-size="40.90" textLength="14.58" lengthAdjust="spacingAndGlyphs">t</text>
<text transform="translate(538.30,372.19) rotate(-90)" x="0" y="0" font-size="42.80" textLength="8.59" lengthAdjust="spacingAndGlyphs">i</text>
<text transform="translate(538.30,361.73) rotate(-90)" x="0" y="0" font-size="42.20" textLength="19.57" lengthAdjust="spacingAndGlyphs">v</text>
<text transform="translate(538.30,340.29) rotate(-90)" x="0" y="0" font-size="42.20" textLength="22.16" lengthAdjust="spacingAndGlyphs">e</text>
<text transform="translate(538.30,305.47) rotate(-90)" x="0" y="0" font-size="43.50" textLength="22.56" lengthAdjust="spacingAndGlyphs">P</text>
<text transform="translate(538.30,281.18) rotate(-90)" x="0" y="0" font-size="42.20" textLength="14.92" lengthAdjust="spacingAndGlyphs">r</text>
<text transform="translate(538.30,265.42) rotate(-90)" x="0" y="0" font-size="42.20" textLength="24.15" lengthAdjust="spacingAndGlyphs">o</text>
<text transform="translate(538.30,240.01) rotate(-90)" x="0" y="0" font-size="44.30" textLength="23.37" lengthAdjust="spacingAndGlyphs">b</text>
<text transform="translate(538.30,214.79) rotate(-90)" x="0" y="0" font-size="42.20" textLength="18.19" lengthAdjust="spacingAndGlyphs">a</text>
<text transform="translate(538.30,191.92) rotate(-90)" x="0" y="0" font-size="44.30" textLength="23.50" lengthAdjust="spacingAndGlyphs">b</text>
<text transform="translate(538.30,167.24) rotate(-90)" x="0" y="0" font-size="42.80" textLength="10.11" lengthAdjust="spacingAndGlyphs">i</text>
<text transform="translate(538.30,156.31) rotate(-90)" x="0" y="0" font-size="44.30" textLength="9.61" lengthAdjust="spacingAndGlyphs">l</text>
<text transform="translate(538.30,145.62) rotate(-90)" x="0" y="0" font-size="42.80" textLength="10.36" lengthAdjust="spacingAndGlyphs">i</text>
<text transform="translate(538.30,134.59) rotate(-90)" x="0" y="0" font-size="40.90" textLength="14.58" lengthAdjust="spacingAndGlyphs">t</text>
<text transform="translate(538.30,118.10) rotate(-90)" x="0" y="0" font-size="42.20" textLength="20.08" lengthAdjust="spacingAndGlyphs">y</text>
<rect x="749.40" y="356.10" width="22.4" height="8.1" fill="#dc3c8e"/>
<rect x="749.60" y="400.70" width="8.2" height="4.0" fill="#c83c82"/>
<rect x="763.20" y="400.70" width="8.4" height="4.0" fill="#c83c82"/>
<text x="784.62" y="369.80" font-size="28.90" textLength="17.39" lengthAdjust="spacingAndGlyphs">R</text>
<text x="802.30" y="369.80" font-size="27.30" textLength="15.64" lengthAdjust="spacingAndGlyphs">e</text>
<text x="820.02" y="369.80" font-size="27.30" textLength="12.78" lengthAdjust="spacingAndGlyphs">a</text>
<text x="836.25" y="369.80" font-size="29.90" textLength="7.08" lengthAdjust="spacingAndGlyphs">l</text>
<text x="851.28" y="369.80" font-size="28.90" textLength="19.51" lengthAdjust="spacingAndGlyphs">D</text>
<text x="872.82" y="369.80" font-size="27.30" textLength="12.78" lengthAdjust="spacingAndGlyphs">a</text>
<text x="888.74" y="369.80" font-size="26.40" textLength="10.34" lengthAdjust="spacingAndGlyphs">t</text>
<text x="900.81" y="369.80" font-size="27.30" textLength="12.99" lengthAdjust="spacingAndGlyphs">a</text>
<text x="783.94" y="410.80" font-size="28.90" textLength="15.53" lengthAdjust="spacingAndGlyphs">S</text>
<text x="800.26" y="410.80" font-size="29.90" textLength="16.35" lengthAdjust="spacingAndGlyphs">h</text>
<text x="818.40" y="410.80" font-size="27.30" textLength="16.23" lengthAdjust="spacingAndGlyphs">u</text>
<text x="836.03" y="410.80" font-size="29.90" textLength="11.11" lengthAdjust="spacingAndGlyphs">f</text>
<text x="844.87" y="410.80" font-size="29.90" textLength="10.37" lengthAdjust="spacingAndGlyphs">f</text>
<text x="856.89" y="410.80" font-size="29.90" textLength="5.31" lengthAdjust="spacingAndGlyphs">l</text>
<text x="864.69" y="410.80" font-size="27.30" textLength="15.88" lengthAdjust="spacingAndGlyphs">e</text>
<text x="505.91" y="50.30" font-size="64.70" font-weight="bold" textLength="42.04" lengthAdjust="spacingAndGlyphs">B</text>
<!-- panel C -->
<g transform="scale(1.35,1)"><path d="M848.46,426.92 L848.57,426.60 L848.69,426.29 L848.81,425.97 L848.93,425.66 L849.04,425.34 L849.16,425.03 L849.28,424.71 L849.39,424.40 L849.51,424.08 L849.63,423.77 L849.74,423.45 L849.86,423.14 L849.98,422.82 L850.09,422.50 L850.21,422.19 L850.33,421.87 L850.45,421.56 L850.56,421.24 L850.68,420.93 L850.80,420.61 L850.91,420.30 L851.03,419.98 L851.15,419.67 L851.26,419.35 L851.38,419.04 M854.42,410.84 L854.54,410.53 L854.66,410.21 L854.77,409.90 L854.89,409.58 L855.01,409.27 L855.12,408.95 L855.24,408.64 L855.36,408.32 L855.47,408.01 L855.59,407.69 L855.71,407.38 L855.82,407.06 L855.94,406.74 L856.06,406.43 L856.18,406.11 L856.29,405.80 L856.41,405.48 L856.53,405.17 L856.64,404.85 L856.76,404.54 L856.88,404.22 L856.99,403.91 L857.11,403.59 L857.23,403.28 L857.34,402.96 L857.46,402.65 L857.58,402.33 M860.62,394.14 L860.74,393.82 L860.85,393.51 L860.97,393.19 L861.09,392.88 L861.20,392.56 L861.32,392.25 L861.44,391.93 L861.55,391.61 L861.67,391.30 L861.79,390.98 L861.91,390.67 L862.02,390.35 L862.14,390.04 L862.26,389.72 L862.37,389.41 L862.49,389.09 L862.61,388.78 L862.72,388.46 L862.84,388.15 L862.96,387.83 L863.07,387.52 L863.19,387.20 L863.31,386.89 L863.43,386.57 L863.54,386.26 L863.66,385.94 L863.78,385.63 M866.89,377.24 L867.00,376.93 L867.12,376.61 L867.24,376.30 L867.35,375.98 L867.47,375.67 L867.59,375.35 L867.71,375.04 L867.82,374.72 L867.94,374.40 L868.06,374.09 L868.17,373.77 L868.29,373.46 L868.41,373.14 L868.52,372.83 L868.64,372.51 L868.76,372.20 L868.88,371.88 L868.99,371.57 L869.11,371.25 L869.23,370.94 L869.34,370.62 L869.46,370.31 L869.58,369.99 L869.69,369.68 L869.81,369.36 L869.93,369.05 M873.08,360.54 L873.20,360.22 L873.32,359.91 L873.44,359.59 L873.55,359.28 L873.67,358.96 L873.79,358.64 L873.90,358.33 L874.02,358.01 L874.14,357.70 L874.25,357.38 L874.37,357.07 L874.49,356.75 L874.61,356.44 L874.72,356.12 L874.84,355.81 L874.96,355.49 L875.07,355.18 L875.19,354.86 L875.31,354.55 L875.42,354.23 L875.54,353.92 L875.66,353.60 L875.77,353.29 L875.89,352.97 L876.01,352.66 L876.13,352.34 L876.24,352.03 M879.28,343.83 L879.40,343.52 L879.52,343.20 L879.63,342.88 L879.75,342.57 L879.87,342.25 L879.98,341.94 L880.10,341.62 L880.22,341.31 L880.33,340.99 L880.45,340.68 L880.57,340.36 L880.69,340.05 L880.80,339.73 L880.92,339.42 L881.04,339.10 L881.15,338.79 L881.27,338.47 L881.39,338.16 L881.50,337.84 L881.62,337.53 L881.74,337.21 L881.86,336.90 L881.97,336.58 L882.09,336.27 L882.21,335.95 L882.32,335.63 L882.44,335.32 M885.48,327.12 L885.60,326.81 L885.71,326.49 L885.83,326.18 L885.95,325.86 L886.06,325.55 L886.18,325.23 L886.30,324.92 L886.42,324.60 L886.53,324.29 L886.65,323.97 L886.77,323.66 L886.88,323.34 L887.00,323.03 L887.12,322.71 L887.23,322.40 L887.35,322.08 L887.47,321.77 L887.59,321.45 L887.70,321.14 L887.82,320.82 L887.94,320.51 L888.05,320.19 L888.17,319.87 L888.29,319.56 L888.40,319.24 L888.52,318.93 L888.64,318.61 M891.68,310.42 L891.80,310.11 L891.92,309.79 L892.03,309.48 L892.15,309.16 L892.27,308.85 L892.39,308.54 L892.50,308.22 L892.62,307.91 L892.74,307.59 L892.86,307.28 L892.98,306.97 L893.09,306.65 L893.21,306.34 L893.33,306.03 L893.45,305.71 L893.57,305.40 L893.68,305.09 L893.80,304.77 L893.92,304.46 L894.04,304.15 L894.16,303.83 L894.28,303.52 L894.40,303.21 L894.51,302.89 L894.63,302.58 L894.75,302.27 L894.87,301.96 M898.10,293.55 L898.22,293.24 L898.34,292.93 L898.46,292.62 L898.59,292.31 L898.71,292.00 L898.83,291.69 L898.95,291.38 L899.07,291.07 L899.19,290.76 L899.31,290.45 L899.43,290.14 L899.56,289.83 L899.68,289.52 L899.80,289.21 L899.92,288.90 L900.04,288.59 L900.16,288.29 L900.29,287.98 L900.41,287.67 L900.53,287.36 L900.65,287.05 L900.77,286.74 L900.90,286.44 L901.02,286.13 L901.17,285.76 L901.31,285.39 M904.68,277.06 L904.80,276.76 L904.93,276.45 L905.05,276.15 L905.18,275.85 L905.30,275.54 L905.43,275.24 L905.55,274.93 L905.68,274.63 L905.80,274.33 L905.93,274.02 L906.05,273.72 L906.18,273.42 L906.31,273.11 L906.43,272.81 L906.56,272.51 L906.68,272.21 L906.81,271.90 L906.94,271.60 L907.06,271.30 L907.19,271.00 L907.32,270.70 L907.44,270.39 L907.57,270.09 L907.70,269.79 L907.83,269.49 L907.95,269.19 L908.08,268.89 L908.21,268.59 M911.69,260.51 L911.82,260.21 L911.95,259.91 L912.08,259.62 L912.21,259.32 L912.34,259.02 L912.47,258.73 L912.60,258.43 L912.73,258.14 L912.86,257.84 L912.99,257.54 L913.13,257.25 L913.26,256.95 L913.39,256.66 L913.52,256.36 L913.65,256.07 L913.79,255.77 L913.92,255.48 L914.05,255.18 L914.18,254.89 L914.31,254.60 L914.45,254.30 L914.58,254.01 L914.71,253.71 L914.85,253.42 L914.98,253.13 L915.11,252.83 L915.25,252.54 L915.38,252.25 M919.17,244.11 L919.30,243.83 L919.44,243.54 L919.58,243.25 L919.71,242.96 L919.85,242.68 L919.99,242.39 L920.13,242.10 L920.27,241.82 L920.40,241.53 L920.54,241.24 L920.68,240.96 L920.82,240.67 L920.96,240.38 L921.10,240.10 L921.24,239.81 L921.38,239.53 L921.51,239.24 L921.65,238.96 L921.79,238.67 L921.93,238.39 L922.07,238.11 L922.21,237.82 L922.35,237.54 L922.49,237.25 L922.63,236.97 L922.77,236.69 L922.92,236.40 L923.06,236.12 L923.20,235.84 M927.35,227.73 L927.50,227.45 L927.64,227.17 L927.79,226.90 L927.93,226.62 L928.08,226.35 L928.23,226.07 L928.37,225.79 L928.52,225.52 L928.67,225.24 L928.81,224.97 L928.96,224.70 L929.11,224.42 L929.26,224.15 L929.40,223.87 L929.55,223.60 L929.70,223.33 L929.85,223.05 L930.00,222.78 L930.14,222.51 L930.29,222.24 L930.44,221.96 L930.59,221.69 L930.74,221.42 L930.89,221.15 L931.04,220.88 L931.19,220.61 L931.34,220.33 L931.49,220.06 L931.64,219.79 M936.22,211.79 L936.38,211.53 L936.61,211.13 L936.85,210.74 L937.08,210.35 L937.31,209.95 L937.55,209.56 L937.79,209.17 L938.02,208.78 L938.26,208.39 L938.50,208.00 L938.73,207.61 L938.97,207.22 L939.21,206.84 L939.45,206.45 L939.69,206.06 L939.93,205.68 L940.17,205.29 L940.41,204.91 L940.65,204.52 L940.89,204.14 M946.16,196.07 L946.42,195.70 L946.67,195.33 L946.92,194.96 L947.17,194.60 L947.43,194.23 L947.68,193.86 L947.94,193.50 L948.19,193.13 L948.45,192.77 L948.70,192.40 L948.96,192.04 L949.21,191.67 L949.47,191.31 L949.73,190.95 L949.99,190.59 L950.25,190.23 L950.51,189.87 L950.77,189.51 L951.03,189.15 L951.29,188.80 M957.15,181.10 L957.43,180.76 L957.70,180.42 L957.97,180.08 L958.25,179.74 L958.52,179.41 L958.80,179.07 L959.07,178.73 L959.35,178.39 L959.63,178.06 L959.91,177.72 L960.18,177.39 L960.46,177.06 L960.74,176.72 L961.02,176.39 L961.30,176.06 L961.58,175.73 L961.86,175.40 L962.15,175.07 L962.43,174.74 L962.71,174.41 L962.99,174.09 M969.38,167.10 L969.68,166.79 L969.97,166.48 L970.27,166.17 L970.57,165.87 L970.87,165.56 L971.17,165.25 L971.47,164.95 L971.77,164.65 L972.07,164.35 L972.38,164.04 L972.68,163.74 L972.98,163.44 L973.29,163.14 L973.59,162.85 L973.90,162.55 L974.20,162.25 L974.51,161.96 L974.82,161.66 L975.12,161.37 L975.43,161.07 L975.74,160.78 L976.05,160.49 L976.36,160.20 M983.68,153.75 L984.00,153.48 L984.33,153.21 L984.65,152.95 L984.98,152.68 L985.31,152.41 L985.64,152.15 L985.97,151.88 L986.30,151.62 L986.63,151.36 L986.96,151.10 L987.30,150.83 L987.63,150.58 L987.96,150.32 L988.30,150.06 L988.63,149.80 L988.97,149.55 L989.30,149.29 L989.64,149.04 L989.98,148.78 L990.32,148.53 L990.66,148.28 L991.00,148.03 L991.34,147.78 M999.73,142.07 L1000.09,141.85 L1000.44,141.62 L1000.80,141.40 L1001.16,141.17 L1001.53,140.95 L1001.89,140.73 L1002.25,140.51 L1002.61,140.29 L1002.98,140.08 L1003.34,139.86 L1003.64,139.69 L1003.93,139.51 L1004.22,139.34 L1004.59,139.13 L1004.96,138.92 L1005.33,138.71 L1005.70,138.50 L1006.07,138.29 L1006.44,138.08 L1006.81,137.87 L1007.19,137.66 L1007.56,137.46 L1007.93,137.26 L1008.31,137.05 M1017.55,132.49 L1017.94,132.31 L1018.34,132.14 L1018.73,131.96 L1019.13,131.79 L1019.53,131.62 L1019.93,131.45 L1020.32,131.28 L1020.73,131.11 L1021.13,130.94 L1021.53,130.77 L1021.93,130.61 L1022.33,130.44 L1022.74,130.28 L1023.14,130.12 L1023.55,129.95 L1023.96,129.79 L1024.36,129.63 L1024.77,129.48 L1025.18,129.32 L1025.59,129.16 L1026.00,129.01 L1026.42,128.85 L1026.83,128.70 L1027.24,128.55 M1036.98,125.38 L1037.42,125.26 L1037.85,125.13 L1038.29,125.01 L1038.72,124.89 L1039.16,124.77 L1039.60,124.65 L1040.04,124.54 L1040.48,124.42 L1040.92,124.31 L1041.36,124.19 L1041.80,124.08 L1042.25,123.97 L1042.69,123.86 L1043.13,123.75 L1043.58,123.64 L1044.03,123.54" fill="none" stroke="#dcd455" stroke-width="2.1" stroke-linecap="butt" stroke-linejoin="round"/></g>
<g transform="scale(1.0,1)"><path d="M1145.57,417.17 L1146.23,415.03 L1146.89,412.90 L1147.56,410.76 L1148.22,408.63 L1148.89,406.49 L1149.55,404.36 L1150.21,402.22 L1150.88,400.09 L1151.54,397.95 L1152.21,395.82 L1152.87,393.68 L1153.60,391.33 L1154.26,389.20 L1154.93,387.06 L1155.59,384.93 L1156.26,382.79 L1156.92,380.66 L1157.58,378.52 L1158.25,376.39 L1158.91,374.25 L1159.58,372.12 L1160.24,369.98 L1160.90,367.85 L1161.57,365.71 L1162.23,363.58 L1162.90,361.44 L1163.56,359.31 L1164.22,357.17 L1164.89,355.04 L1165.55,352.91 L1166.22,350.77 L1166.88,348.64 L1167.54,346.50 L1168.27,344.15 L1168.94,342.02 L1169.60,339.88 L1170.27,337.75 L1170.93,335.61 L1171.59,333.48 L1172.26,331.34 L1172.92,329.21 L1173.59,327.07 L1174.25,324.94 L1174.91,322.80 L1175.58,320.67 L1176.24,318.53 L1176.91,316.40 L1177.57,314.26 L1178.23,312.13 L1178.90,309.99 L1179.57,307.86 L1180.24,305.74 L1180.91,303.61 L1181.59,301.49 L1182.27,299.37 L1183.02,297.04 L1183.70,294.93 L1184.39,292.82 L1185.09,290.71 L1185.79,288.61 L1186.49,286.52 L1187.20,284.43 L1187.91,282.34 L1188.63,280.26 L1189.35,278.18 L1190.08,276.11 L1190.81,274.05 L1191.55,271.99 L1192.30,269.94 L1193.05,267.89 L1193.81,265.85 L1194.58,263.82 L1195.35,261.79 L1196.13,259.77 L1196.92,257.76 L1197.71,255.76 L1198.52,253.76 L1199.41,251.58 L1200.23,249.60 L1201.06,247.63 L1201.90,245.66 L1202.74,243.71 L1203.60,241.77 L1204.46,239.83 L1205.34,237.91 L1206.22,235.99 L1207.11,234.09 L1208.02,232.20 L1208.93,230.31 L1209.86,228.44 L1210.79,226.57 L1211.74,224.72 L1212.70,222.88 L1213.67,221.05 L1214.65,219.24 L1215.64,217.43 L1216.65,215.64 L1217.67,213.86 L1218.70,212.09 L1219.85,210.16 L1220.90,208.41 L1221.97,206.69 L1223.06,204.97 L1224.15,203.27 L1225.27,201.58 L1226.39,199.91 L1227.53,198.25 L1228.69,196.60 L1229.85,194.97 L1231.04,193.36 L1232.24,191.76 L1233.45,190.17 L1234.68,188.61 L1235.93,187.05 L1237.19,185.51 L1238.46,183.99 L1239.76,182.49 L1241.07,181.00 L1242.40,179.53 L1243.74,178.07 L1245.10,176.63 L1246.62,175.07 L1248.02,173.67 L1249.43,172.29 L1250.87,170.93 L1252.32,169.58 L1253.79,168.25 L1255.28,166.94 L1256.79,165.65 L1258.32,164.38 L1259.86,163.13 L1261.43,161.89 L1263.01,160.68 L1264.61,159.48 L1266.24,158.30 L1267.88,157.15 L1269.54,156.01 L1271.22,154.89 L1272.91,153.79 L1274.63,152.71 L1276.37,151.64 L1278.12,150.60 L1279.90,149.58 L1281.87,148.47 L1283.69,147.49 L1285.52,146.53 L1287.38,145.58 L1289.25,144.66 L1291.15,143.75 L1293.06,142.87 L1294.99,142.00 L1296.95,141.16 L1298.92,140.33 L1300.91,139.52 L1302.92,138.74 L1304.96,137.97 L1307.01,137.22 L1309.08,136.49 L1311.17,135.79 L1313.28,135.10 L1315.41,134.43 L1317.57,133.79 L1319.74,133.16 L1321.93,132.55 L1324.14,131.97 L1326.60,131.34 L1328.85,130.80 L1331.13,130.28 L1333.43,129.77 L1335.74,129.29 L1338.08,128.83 L1340.44,128.39 L1342.81,127.96 L1345.21,127.56 L1347.63,127.18 L1350.07,126.82 L1352.53,126.48 L1355.01,126.17 L1357.51,125.87 L1360.03,125.59 L1362.58,125.34 L1365.14,125.10 L1367.73,124.89 L1370.33,124.70 L1372.96,124.52 L1375.61,124.37 L1378.28,124.24 L1381.24,124.13 L1383.95,124.04 L1386.69,123.98 L1389.44,123.93 L1392.22,123.91 L1395.02,123.91 L1397.84,123.93 L1400.68,123.98 L1403.54,124.04 L1406.43,124.13 L1409.33,124.23 L1412.26,124.36" fill="none" stroke="#f0e43c" stroke-width="7.8" stroke-linecap="butt" stroke-linejoin="round"/></g>
<path d="M1141.40,119.65 L1141.40,459.70 M1127.40,440.70 L1414.55,440.70 M1127.40,121.50 L1143.25,121.50 M1127.40,281.10 L1143.25,281.10 M1277.05,438.85 L1277.05,459.70 M1412.70,438.85 L1412.70,459.70" fill="none" stroke="#141414" stroke-width="3.7" stroke-linecap="butt"/>
<text x="1092.94" y="128.50" font-size="36.60" textLength="20.90" lengthAdjust="spacingAndGlyphs">1</text>
<text x="1058.01" y="288.50" font-size="36.60" textLength="22.57" lengthAdjust="spacingAndGlyphs">0</text>
<text x="1079.60" y="288.50" font-size="36.60" textLength="14.01" lengthAdjust="spacingAndGlyphs">.</text>
<text x="1093.14" y="288.50" font-size="36.60" textLength="20.29" lengthAdjust="spacingAndGlyphs">5</text>
<text x="1092.21" y="448.20" font-size="36.60" textLength="22.57" lengthAdjust="spacingAndGlyphs">0</text>
<text x="1132.28" y="500.30" font-size="36.60" textLength="20.24" lengthAdjust="spacingAndGlyphs">0</text>
<text x="1257.64" y="500.30" font-size="36.60" textLength="18.73" lengthAdjust="spacingAndGlyphs">8</text>
<text x="1277.97" y="500.30" font-size="36.60" textLength="18.53" lengthAdjust="spacingAndGlyphs">5</text>
<text x="1383.06" y="500.50" font-size="36.60" textLength="18.57" lengthAdjust="spacingAndGlyphs">1</text>
<text x="1404.18" y="500.50" font-size="36.60" textLength="17.62" lengthAdjust="spacingAndGlyphs">7</text>
<text x="1422.17" y="500.50" font-size="36.60" textLength="20.36" lengthAdjust="spacingAndGlyphs">0</text>
<text x="1140.89" y="555.50" font-size="43.30" textLength="20.43" lengthAdjust="spacingAndGlyphs">E</text>
<text x="1162.26" y="555.50" font-size="41.90" textLength="16.25" lengthAdjust="spacingAndGlyphs">r</text>
<text x="1179.69" y="555.50" font-size="41.90" textLength="16.12" lengthAdjust="spacingAndGlyphs">r</text>
<text x="1195.55" y="555.50" font-size="41.90" textLength="24.50" lengthAdjust="spacingAndGlyphs">o</text>
<text x="1220.08" y="555.50" font-size="41.90" textLength="16.65" lengthAdjust="spacingAndGlyphs">r</text>
<text x="1247.12" y="555.50" font-size="43.30" textLength="21.67" lengthAdjust="spacingAndGlyphs">S</text>
<text x="1269.08" y="555.50" font-size="40.60" textLength="11.37" lengthAdjust="spacingAndGlyphs">i</text>
<text x="1280.73" y="555.50" font-size="41.90" textLength="18.19" lengthAdjust="spacingAndGlyphs">z</text>
<text x="1298.44" y="555.50" font-size="41.90" textLength="22.99" lengthAdjust="spacingAndGlyphs">e</text>
<text x="1334.16" y="555.50" font-size="43.70" textLength="10.42" lengthAdjust="spacingAndGlyphs">(</text>
<text x="1347.66" y="555.50" font-size="41.90" textLength="19.25" lengthAdjust="spacingAndGlyphs">c</text>
<text x="1368.08" y="555.50" font-size="41.90" textLength="37.92" lengthAdjust="spacingAndGlyphs">m</text>
<text x="1408.72" y="555.50" font-size="43.70" textLength="10.42" lengthAdjust="spacingAndGlyphs">)</text>
<text transform="translate(1039.20,536.96) rotate(-90)" x="0" y="0" font-size="43.50" textLength="25.09" lengthAdjust="spacingAndGlyphs">C</text>
<text transform="translate(1039.20,510.65) rotate(-90)" x="0" y="0" font-size="42.20" textLength="23.57" lengthAdjust="spacingAndGlyphs">u</text>
<text transform="translate(1039.20,485.59) rotate(-90)" x="0" y="0" font-size="42.20" textLength="36.26" lengthAdjust="spacingAndGlyphs">m</text>
<text transform="translate(1039.20,447.41) rotate(-90)" x="0" y="0" font-size="42.20" textLength="23.17" lengthAdjust="spacingAndGlyphs">u</text>
<text transform="translate(1039.20,422.58) rotate(-90)" x="0" y="0" font-size="44.30" textLength="8.85" lengthAdjust="spacingAndGlyphs">l</text>
<text transform="translate(1039.20,411.61) rotate(-90)" x="0" y="0" font-size="42.20" textLength="18.41" lengthAdjust="spacingAndGlyphs">a</text>
<text transform="translate(1039.20,389.49) rotate(-90)" x="0" y="0" font-size="40.90" textLength="14.58" lengthAdjust="spacingAndGlyphs">t</text>
<text transform="translate(1039.20,372.89) rotate(-90)" x="0" y="0" font-size="42.80" textLength="8.59" lengthAdjust="spacingAndGlyphs">i</text>
<text transform="translate(1039.20,362.43) rotate(-90)" x="0" y="0" font-size="42.20" textLength="19.57" lengthAdjust="spacingAndGlyphs">v</text>
<text transform="translate(1039.20,340.99) rotate(-90)" x="0" y="0" font-size="42.20" textLength="22.16" lengthAdjust="spacingAndGlyphs">e</text>
<text transform="translate(1039.20,306.17) rotate(-90)" x="0" y="0" font-size="43.50" textLength="22.56" lengthAdjust="spacingAndGlyphs">P</text>
<text transform="translate(1039.20,281.88) rotate(-90)" x="0" y="0" font-size="42.20" textLength="14.92" lengthAdjust="spacingAndGlyphs">r</text>
<text transform="translate(1039.20,266.12) rotate(-90)" x="0" y="0" font-size="42.20" textLength="24.15" lengthAdjust="spacingAndGlyphs">o</text>
<text transform="translate(1039.20,240.71) rotate(-90)" x="0" y="0" font-size="44.30" textLength="23.37" lengthAdjust="spacingAndGlyphs">b</text>
<text transform="translate(1039.20,215.49) rotate(-90)" x="0" y="0" font-size="42.20" textLength="18.19" lengthAdjust="spacingAndGlyphs">a</text>
<text transform="translate(1039.20,192.62) rotate(-90)" x="0" y="0" font-size="44.30" textLength="23.50" lengthAdjust="spacingAndGlyphs">b</text>
<text transform="translate(1039.20,167.94) rotate(-90)" x="0" y="0" font-size="42.80" textLength="10.11" lengthAdjust="spacingAndGlyphs">i</text>
<text transform="translate(1039.20,157.01) rotate(-90)" x="0" y="0" font-size="44.30" textLength="9.61" lengthAdjust="spacingAndGlyphs">l</text>
<text transform="translate(1039.20,146.32) rotate(-90)" x="0" y="0" font-size="42.80" textLength="10.36" lengthAdjust="spacingAndGlyphs">i</text>
<text transform="translate(1039.20,135.29) rotate(-90)" x="0" y="0" font-size="40.90" textLength="14.58" lengthAdjust="spacingAndGlyphs">t</text>
<text transform="translate(1039.20,118.80) rotate(-90)" x="0" y="0" font-size="42.20" textLength="20.08" lengthAdjust="spacingAndGlyphs">y</text>
<rect x="1248.10" y="356.10" width="22.4" height="8.1" fill="#f0e43c"/>
<rect x="1248.30" y="400.70" width="8.2" height="4.0" fill="#dcd455"/>
<rect x="1261.90" y="400.70" width="8.4" height="4.0" fill="#dcd455"/>
<text x="1283.32" y="369.80" font-size="28.90" textLength="17.39" lengthAdjust="spacingAndGlyphs">R</text>
<text x="1301.00" y="369.80" font-size="27.30" textLength="15.64" lengthAdjust="spacingAndGlyphs">e</text>
<text x="1318.72" y="369.80" font-size="27.30" textLength="12.78" lengthAdjust="spacingAndGlyphs">a</text>
<text x="1334.95" y="369.80" font-size="29.90" textLength="7.08" lengthAdjust="spacingAndGlyphs">l</text>
<text x="1349.98" y="369.80" font-size="28.90" textLength="19.51" lengthAdjust="spacingAndGlyphs">D</text>
<text x="1371.52" y="369.80" font-size="27.30" textLength="12.78" lengthAdjust="spacingAndGlyphs">a</text>
<text x="1387.44" y="369.80" font-size="26.40" textLength="10.34" lengthAdjust="spacingAndGlyphs">t</text>
<text x="1399.51" y="369.80" font-size="27.30" textLength="12.99" lengthAdjust="spacingAndGlyphs">a</text>
<text x="1282.64" y="410.80" font-size="28.90" textLength="15.53" lengthAdjust="spacingAndGlyphs">S</text>
<text x="1298.96" y="410.80" font-size="29.90" textLength="16.35" lengthAdjust="spacingAndGlyphs">h</text>
<text x="1317.10" y="410.80" font-size="27.30" textLength="16.23" lengthAdjust="spacingAndGlyphs">u</text>
<text x="1334.73" y="410.80" font-size="29.90" textLength="11.11" lengthAdjust="spacingAndGlyphs">f</text>
<text x="1343.57" y="410.80" font-size="29.90" textLength="10.37" lengthAdjust="spacingAndGlyphs">f</text>
<text x="1355.59" y="410.80" font-size="29.90" textLength="5.31" lengthAdjust="spacingAndGlyphs">l</text>
<text x="1363.39" y="410.80" font-size="27.30" textLength="15.88" lengthAdjust="spacingAndGlyphs">e</text>
<text x="1006.58" y="51.00" font-size="64.70" font-weight="bold" textLength="40.87" lengthAdjust="spacingAndGlyphs">C</text>
<!-- panel D -->
<g transform="scale(1.35,1)"><path d="M109.64,1141.01 L109.76,1140.71 L109.88,1140.40 L110.00,1140.09 L110.12,1139.78 L110.24,1139.47 L110.36,1139.16 L110.48,1138.85 L110.59,1138.55 L110.71,1138.24 L110.83,1137.93 L110.95,1137.62 L111.07,1137.31 L111.19,1137.00 L111.31,1136.69 L111.43,1136.39 L111.55,1136.08 L111.67,1135.77 L111.79,1135.46 L111.91,1135.15 L112.03,1134.84 L112.15,1134.54 L112.27,1134.23 M115.49,1125.90 L115.61,1125.59 L115.73,1125.28 L115.85,1124.97 L115.97,1124.66 L116.09,1124.36 L116.21,1124.05 L116.33,1123.74 L116.44,1123.43 L116.56,1123.12 L116.68,1122.81 L116.80,1122.51 L116.92,1122.20 L117.04,1121.89 L117.16,1121.58 L117.28,1121.27 L117.40,1120.96 L117.52,1120.65 L117.64,1120.35 L117.76,1120.04 L117.88,1119.73 L118.00,1119.42 L118.12,1119.11 L118.24,1118.80 L118.36,1118.50 L118.47,1118.19 L118.59,1117.88 L118.71,1117.57 L118.83,1117.26 M122.06,1108.93 L122.18,1108.62 L122.30,1108.32 L122.41,1108.01 L122.53,1107.70 L122.65,1107.39 L122.77,1107.08 L122.89,1106.77 L123.01,1106.46 L123.13,1106.16 L123.25,1105.85 L123.37,1105.54 L123.49,1105.23 L123.61,1104.92 L123.73,1104.61 L123.85,1104.31 L123.97,1104.00 L124.09,1103.69 L124.21,1103.38 L124.32,1103.07 L124.44,1102.76 L124.56,1102.45 L124.68,1102.15 L124.80,1101.84 L124.92,1101.53 L125.04,1101.22 L125.16,1100.91 L125.28,1100.60 M128.46,1092.40 L128.58,1092.09 L128.69,1091.78 L128.81,1091.47 L128.93,1091.16 L129.05,1090.86 L129.17,1090.55 L129.29,1090.24 L129.41,1089.93 L129.53,1089.62 L129.65,1089.31 L129.77,1089.01 L129.89,1088.70 L130.01,1088.39 L130.13,1088.08 L130.25,1087.77 L130.37,1087.46 L130.49,1087.15 L130.60,1086.85 L130.72,1086.54 L130.84,1086.23 L130.96,1085.92 L131.08,1085.61 L131.20,1085.30 L131.32,1084.99 L131.44,1084.69 L131.56,1084.38 L131.68,1084.07 M134.90,1075.74 L135.02,1075.43 L135.14,1075.12 L135.26,1074.82 L135.38,1074.51 L135.50,1074.20 L135.62,1073.89 L135.74,1073.58 L135.86,1073.27 L135.98,1072.97 L136.10,1072.66 L136.22,1072.35 L136.34,1072.04 L136.46,1071.73 L136.58,1071.42 L136.70,1071.12 L136.82,1070.81 L136.94,1070.50 L137.05,1070.19 L137.17,1069.88 L137.29,1069.58 L137.41,1069.27 L137.53,1068.96 L137.65,1068.65 L137.77,1068.34 L137.89,1068.04 L138.01,1067.73 L138.13,1067.42 M141.38,1059.13 L141.50,1058.82 L141.62,1058.51 L141.75,1058.21 L141.87,1057.90 L141.99,1057.60 L142.11,1057.29 L142.23,1056.98 L142.35,1056.68 L142.47,1056.37 L142.59,1056.06 L142.71,1055.76 L142.83,1055.45 L142.96,1055.15 L143.08,1054.84 L143.20,1054.53 L143.32,1054.23 L143.44,1053.92 L143.56,1053.62 L143.68,1053.31 L143.81,1053.00 L143.93,1052.70 L144.05,1052.39 L144.17,1052.09 L144.29,1051.78 L144.41,1051.48 L144.54,1051.17 L144.66,1050.87 L144.78,1050.56 M148.08,1042.34 L148.21,1042.04 L148.33,1041.74 L148.45,1041.43 L148.58,1041.13 L148.70,1040.82 L148.82,1040.52 L148.95,1040.22 L149.07,1039.92 L149.19,1039.61 L149.32,1039.31 L149.44,1039.01 L149.56,1038.70 L149.69,1038.40 L149.81,1038.10 L149.93,1037.80 L150.06,1037.49 L150.18,1037.19 L150.31,1036.89 L150.43,1036.59 L150.55,1036.28 L150.68,1035.98 L150.80,1035.68 L150.93,1035.38 L151.05,1035.08 L151.17,1034.77 L151.30,1034.47 L151.42,1034.17 M154.93,1025.75 L155.06,1025.45 L155.18,1025.15 L155.31,1024.85 L155.43,1024.56 L155.56,1024.26 L155.69,1023.96 L155.81,1023.66 L155.94,1023.36 L156.07,1023.06 L156.19,1022.76 L156.32,1022.46 L156.45,1022.17 L156.57,1021.87 L156.70,1021.57 L156.83,1021.27 L156.95,1020.97 L157.08,1020.67 L157.21,1020.38 L157.34,1020.08 L157.46,1019.78 L157.59,1019.48 L157.72,1019.19 L157.85,1018.89 L157.97,1018.59 L158.10,1018.29 L158.23,1018.00 L158.36,1017.70 L158.48,1017.40 M161.97,1009.42 L162.10,1009.13 L162.23,1008.83 L162.36,1008.54 L162.49,1008.24 L162.62,1007.95 L162.75,1007.66 L162.88,1007.36 L163.01,1007.07 L163.14,1006.78 L163.27,1006.48 L163.40,1006.19 L163.53,1005.90 L163.66,1005.60 L163.79,1005.31 L163.92,1005.02 L164.05,1004.73 L164.19,1004.43 L164.34,1004.08 L164.50,1003.73 L164.66,1003.38 L164.79,1003.09 L164.92,1002.80 L165.05,1002.51 L165.19,1002.22 L165.32,1001.92 L165.45,1001.63 L165.58,1001.34 L165.71,1001.05 M169.45,992.95 L169.59,992.66 L169.72,992.37 L169.86,992.08 L169.99,991.80 L170.13,991.51 L170.26,991.22 L170.40,990.94 L170.53,990.65 L170.67,990.36 L170.80,990.08 L170.94,989.79 L171.08,989.50 L171.21,989.22 L171.35,988.93 L171.48,988.64 L171.62,988.36 L171.76,988.07 L171.89,987.79 L172.03,987.50 L172.17,987.22 L172.30,986.93 L172.44,986.65 L172.58,986.36 L172.71,986.08 L172.85,985.79 L172.99,985.51 L173.13,985.22 L173.26,984.94 L173.40,984.66 M177.43,976.48 L177.57,976.20 L177.72,975.92 L177.86,975.64 L178.00,975.36 L178.14,975.08 L178.28,974.81 L178.42,974.53 L178.56,974.25 L178.70,973.97 L178.85,973.69 L178.99,973.41 L179.13,973.13 L179.27,972.86 L179.41,972.58 L179.56,972.30 L179.70,972.02 L179.84,971.75 L179.98,971.47 L180.13,971.19 L180.27,970.92 L180.41,970.64 L180.55,970.36 L180.70,970.09 L180.84,969.81 L180.98,969.53 L181.13,969.26 L181.27,968.98 L181.42,968.71 L181.56,968.43 M185.78,960.51 L185.93,960.24 L186.08,959.97 L186.22,959.70 L186.37,959.43 L186.52,959.16 L186.67,958.89 L186.82,958.62 L186.96,958.35 L187.11,958.08 L187.26,957.81 L187.41,957.54 L187.56,957.28 L187.71,957.01 L187.86,956.74 L188.01,956.47 L188.16,956.20 L188.31,955.93 L188.45,955.67 L188.60,955.40 L188.75,955.13 L188.90,954.86 L189.05,954.60 L189.20,954.33 L189.36,954.06 L189.51,953.80 L189.66,953.53 L189.81,953.27 L189.96,953.00 L190.11,952.73 L190.26,952.47 M194.78,944.72 L195.01,944.33 L195.25,943.94 L195.48,943.55 L195.71,943.16 L195.95,942.77 L196.18,942.38 L196.42,941.99 L196.65,941.61 L196.89,941.22 L197.12,940.84 L197.36,940.45 L197.60,940.07 L197.83,939.68 L198.07,939.30 L198.31,938.91 L198.55,938.53 L198.79,938.15 L199.02,937.76 L199.26,937.38 L199.50,937.00 M204.60,929.09 L204.85,928.72 L205.10,928.35 L205.35,927.98 L205.59,927.61 L205.84,927.24 L206.09,926.87 L206.34,926.50 L206.59,926.14 L206.84,925.77 L207.09,925.40 L207.34,925.04 L207.59,924.67 L207.84,924.30 L208.09,923.94 L208.34,923.57 L208.60,923.21 L208.80,922.92 L209.00,922.63 L209.20,922.34 L209.46,921.98 L209.71,921.61 L209.96,921.25 M215.39,913.78 L215.65,913.43 L215.91,913.08 L216.18,912.73 L216.44,912.39 L216.71,912.04 L216.97,911.69 L217.24,911.34 L217.50,911.00 L217.77,910.65 L218.03,910.31 L218.30,909.96 L218.57,909.62 L218.83,909.28 L219.10,908.93 L219.37,908.59 L219.64,908.25 L219.91,907.91 L220.18,907.57 L220.45,907.23 L220.72,906.89 L220.99,906.55 M227.05,899.23 L227.33,898.90 L227.61,898.58 L227.89,898.25 L228.17,897.93 L228.45,897.60 L228.73,897.28 L229.02,896.96 L229.30,896.64 L229.58,896.31 L229.87,895.99 L230.15,895.67 L230.44,895.35 L230.72,895.03 L231.01,894.72 L231.30,894.40 L231.58,894.08 L231.87,893.76 L232.16,893.45 L232.45,893.13 L232.73,892.82 L233.02,892.50 L233.31,892.19 M240.10,885.15 L240.40,884.85 L240.70,884.55 L241.00,884.25 L241.30,883.96 L241.61,883.66 L241.91,883.37 L242.21,883.07 L242.52,882.78 L242.82,882.48 L243.13,882.19 L243.43,881.90 L243.74,881.61 L244.04,881.32 L244.35,881.03 L244.66,880.74 L244.97,880.45 L245.27,880.16 L245.58,879.87 L245.89,879.58 L246.20,879.30 L246.51,879.01 L246.82,878.73 M254.43,872.09 L254.75,871.82 L255.08,871.55 L255.40,871.29 L255.73,871.02 L256.05,870.76 L256.38,870.49 L256.70,870.23 L257.03,869.96 L257.36,869.70 L257.69,869.44 L258.01,869.18 L258.34,868.92 L258.67,868.66 L259.00,868.40 L259.33,868.14 L259.67,867.88 L260.00,867.63 L260.33,867.37 L260.66,867.12 L260.99,866.86 L261.33,866.61 L261.66,866.35 L262.00,866.10 M269.99,860.40 L270.34,860.17 L270.68,859.94 L271.03,859.70 L271.38,859.47 L271.73,859.24 L272.08,859.01 L272.44,858.78 L272.79,858.55 L273.14,858.32 L273.49,858.09 L273.85,857.87 L274.20,857.64 L274.56,857.41 L274.91,857.19 L275.27,856.97 L275.62,856.74 L275.98,856.52 L276.34,856.30 L276.70,856.08 L277.06,855.86 L277.42,855.64 L277.78,855.42 L278.14,855.20 L278.50,854.99 M287.34,850.02 L287.72,849.82 L288.09,849.62 L288.47,849.43 L288.85,849.23 L289.23,849.04 L289.61,848.85 L289.99,848.66 L290.37,848.46 L290.75,848.27 L291.13,848.08 L291.51,847.90 L291.89,847.71 L292.28,847.52 L292.66,847.33 L293.04,847.15 L293.43,846.96 L293.81,846.78 L294.20,846.60 L294.59,846.41 L294.97,846.23 L295.36,846.05 L295.75,845.87 L296.14,845.69 L296.53,845.52" fill="none" stroke="#0f5f2d" stroke-width="2.1" stroke-linecap="butt" stroke-linejoin="round"/></g>
<g transform="scale(1.0,1)"><path d="M147.70,1138.50 L148.51,1136.49 L149.32,1134.48 L150.13,1132.47 L150.94,1130.46 L151.75,1128.45 L152.56,1126.44 L153.37,1124.43 L154.18,1122.42 L154.99,1120.41 L155.80,1118.40 L156.61,1116.39 L157.50,1114.18 L158.31,1112.17 L159.12,1110.16 L159.93,1108.15 L160.74,1106.14 L161.55,1104.13 L162.36,1102.12 L163.17,1100.11 L163.99,1098.10 L164.80,1096.10 L165.61,1094.09 L166.42,1092.08 L167.23,1090.07 L168.04,1088.06 L168.85,1086.05 L169.66,1084.04 L170.47,1082.03 L171.28,1080.02 L172.09,1078.01 L172.90,1076.00 L173.71,1073.99 L174.52,1071.98 L175.41,1069.77 L176.23,1067.76 L177.04,1065.76 L177.86,1063.76 L178.67,1061.75 L179.49,1059.75 L180.31,1057.75 L181.14,1055.76 L181.96,1053.76 L182.79,1051.77 L183.62,1049.78 L184.46,1047.80 L185.29,1045.81 L186.13,1043.83 L186.97,1041.85 L187.81,1039.88 L188.66,1037.90 L189.51,1035.93 L190.37,1033.97 L191.22,1032.00 L192.08,1030.04 L192.95,1028.09 L193.90,1025.94 L194.78,1023.99 L195.65,1022.05 L196.53,1020.11 L197.42,1018.18 L198.31,1016.25 L199.20,1014.32 L200.10,1012.40 L201.00,1010.48 L201.91,1008.57 L202.82,1006.66 L203.74,1004.76 L204.66,1002.86 L205.59,1000.97 L206.52,999.08 L207.46,997.20 L208.40,995.32 L209.35,993.45 L210.31,991.59 L211.27,989.73 L212.24,987.88 L213.21,986.03 L214.29,984.01 L215.28,982.18 L216.27,980.35 L217.27,978.53 L218.28,976.72 L219.29,974.91 L220.31,973.11 L221.34,971.32 L222.37,969.53 L223.41,967.75 L224.46,965.98 L225.52,964.22 L226.59,962.47 L227.66,960.72 L228.74,958.98 L229.83,957.25 L230.92,955.52 L232.03,953.81 L233.14,952.10 L234.26,950.40 L235.39,948.71 L236.53,947.03 L237.79,945.19 L238.94,943.52 L240.11,941.87 L241.28,940.22 L242.47,938.59 L243.66,936.96 L244.86,935.34 L246.08,933.74 L247.30,932.14 L248.53,930.55 L249.77,928.97 L251.02,927.40 L252.28,925.84 L253.56,924.30 L254.84,922.76 L256.13,921.23 L257.43,919.71 L258.75,918.21 L260.07,916.71 L261.41,915.23 L262.75,913.75 L264.11,912.29 L265.62,910.70 L267.00,909.26 L268.39,907.83 L269.79,906.41 L271.21,905.01 L272.64,903.62 L274.08,902.24 L275.53,900.87 L276.99,899.51 L278.47,898.17 L279.96,896.84 L281.46,895.52 L282.97,894.21 L284.50,892.92 L286.04,891.64 L287.59,890.37 L289.16,889.12 L290.73,887.87 L292.33,886.65 L293.93,885.43 L295.55,884.23 L297.18,883.04 L298.99,881.75 L300.65,880.59 L302.33,879.45 L304.02,878.32 L305.72,877.20 L307.44,876.10 L309.17,875.01 L310.92,873.94 L312.68,872.88 L314.45,871.83 L316.24,870.80 L318.05,869.79 L319.87,868.79 L321.71,867.81 L323.56,866.84 L325.42,865.89 L327.31,864.95 L329.20,864.03 L331.12,863.12 L333.05,862.23 L334.99,861.35 L336.96,860.50 L339.13,859.57 L341.13,858.75 L343.14,857.94 L345.17,857.15 L347.21,856.37 L349.28,855.62 L351.36,854.88 L353.45,854.15 L355.57,853.45 L357.70,852.76 L359.84,852.08 L362.01,851.43 L364.19,850.79 L366.39,850.17 L368.61,849.57 L370.85,848.99 L373.10,848.42 L375.38,847.88 L377.67,847.35 L379.98,846.84 L382.30,846.35 L384.65,845.87 L387.25,845.37 L389.64,844.94 L392.04,844.52 L394.47,844.13 L396.91,843.75 L399.37,843.39 L401.85,843.05 L404.36,842.74 L406.88,842.44 L409.42,842.16 L411.98,841.90 L414.56,841.66" fill="none" stroke="#0f6b32" stroke-width="7.8" stroke-linecap="butt" stroke-linejoin="round"/></g>
<path d="M142.20,837.95 L142.20,1178.00 M128.20,1159.00 L415.35,1159.00 M128.20,839.80 L144.05,839.80 M128.20,999.40 L144.05,999.40 M277.85,1157.15 L277.85,1178.00 M413.50,1157.15 L413.50,1178.00" fill="none" stroke="#141414" stroke-width="3.7" stroke-linecap="butt"/>
<text x="93.74" y="846.80" font-size="36.60" textLength="20.90" lengthAdjust="spacingAndGlyphs">1</text>
<text x="58.81" y="1006.80" font-size="36.60" textLength="22.57" lengthAdjust="spacingAndGlyphs">0</text>
<text x="80.40" y="1006.80" font-size="36.60" textLength="14.01" lengthAdjust="spacingAndGlyphs">.</text>
<text x="93.94" y="1006.80" font-size="36.60" textLength="20.29" lengthAdjust="spacingAndGlyphs">5</text>
<text x="93.01" y="1166.50" font-size="36.60" textLength="22.57" lengthAdjust="spacingAndGlyphs">0</text>
<text x="133.08" y="1218.60" font-size="36.60" textLength="20.24" lengthAdjust="spacingAndGlyphs">0</text>
<text x="258.44" y="1218.60" font-size="36.60" textLength="18.73" lengthAdjust="spacingAndGlyphs">8</text>
<text x="278.77" y="1218.60" font-size="36.60" textLength="18.53" lengthAdjust="spacingAndGlyphs">5</text>
<text x="383.86" y="1218.80" font-size="36.60" textLength="18.57" lengthAdjust="spacingAndGlyphs">1</text>
<text x="404.98" y="1218.80" font-size="36.60" textLength="17.62" lengthAdjust="spacingAndGlyphs">7</text>
<text x="422.97" y="1218.80" font-size="36.60" textLength="20.36" lengthAdjust="spacingAndGlyphs">0</text>
<text x="141.69" y="1273.80" font-size="43.30" textLength="20.43" lengthAdjust="spacingAndGlyphs">E</text>
<text x="163.06" y="1273.80" font-size="41.90" textLength="16.25" lengthAdjust="spacingAndGlyphs">r</text>
<text x="180.49" y="1273.80" font-size="41.90" textLength="16.12" lengthAdjust="spacingAndGlyphs">r</text>
<text x="196.35" y="1273.80" font-size="41.90" textLength="24.50" lengthAdjust="spacingAndGlyphs">o</text>
<text x="220.88" y="1273.80" font-size="41.90" textLength="16.65" lengthAdjust="spacingAndGlyphs">r</text>
<text x="247.92" y="1273.80" font-size="43.30" textLength="21.67" lengthAdjust="spacingAndGlyphs">S</text>
<text x="269.88" y="1273.80" font-size="40.60" textLength="11.37" lengthAdjust="spacingAndGlyphs">i</text>
<text x="281.53" y="1273.80" font-size="41.90" textLength="18.19" lengthAdjust="spacingAndGlyphs">z</text>
<text x="299.24" y="1273.80" font-size="41.90" textLength="22.99" lengthAdjust="spacingAndGlyphs">e</text>
<text x="334.96" y="1273.80" font-size="43.70" textLength="10.42" lengthAdjust="spacingAndGlyphs">(</text>
<text x="348.46" y="1273.80" font-size="41.90" textLength="19.25" lengthAdjust="spacingAndGlyphs">c</text>
<text x="368.88" y="1273.80" font-size="41.90" textLength="37.92" lengthAdjust="spacingAndGlyphs">m</text>
<text x="409.52" y="1273.80" font-size="43.70" textLength="10.42" lengthAdjust="spacingAndGlyphs">)</text>
<text transform="translate(40.00,1255.26) rotate(-90)" x="0" y="0" font-size="43.50" textLength="25.09" lengthAdjust="spacingAndGlyphs">C</text>
<text transform="translate(40.00,1228.95) rotate(-90)" x="0" y="0" font-size="42.20" textLength="23.57" lengthAdjust="spacingAndGlyphs">u</text>
<text transform="translate(40.00,1203.89) rotate(-90)" x="0" y="0" font-size="42.20" textLength="36.26" lengthAdjust="spacingAndGlyphs">m</text>
<text transform="translate(40.00,1165.71) rotate(-90)" x="0" y="0" font-size="42.20" textLength="23.17" lengthAdjust="spacingAndGlyphs">u</text>
<text transform="translate(40.00,1140.88) rotate(-90)" x="0" y="0" font-size="44.30" textLength="8.85" lengthAdjust="spacingAndGlyphs">l</text>
<text transform="translate(40.00,1129.91) rotate(-90)" x="0" y="0" font-size="42.20" textLength="18.41" lengthAdjust="spacingAndGlyphs">a</text>
<text transform="translate(40.00,1107.79) rotate(-90)" x="0" y="0" font-size="40.90" textLength="14.58" lengthAdjust="spacingAndGlyphs">t</text>
<text transform="translate(40.00,1091.19) rotate(-90)" x="0" y="0" font-size="42.80" textLength="8.59" lengthAdjust="spacingAndGlyphs">i</text>
<text transform="translate(40.00,1080.73) rotate(-90)" x="0" y="0" font-size="42.20" textLength="19.57" lengthAdjust="spacingAndGlyphs">v</text>
<text transform="translate(40.00,1059.29) rotate(-90)" x="0" y="0" font-size="42.20" textLength="22.16" lengthAdjust="spacingAndGlyphs">e</text>
<text transform="translate(40.00,1024.47) rotate(-90)" x="0" y="0" font-size="43.50" textLength="22.56" lengthAdjust="spacingAndGlyphs">P</text>
<text transform="translate(40.00,1000.18) rotate(-90)" x="0" y="0" font-size="42.20" textLength="14.92" lengthAdjust="spacingAndGlyphs">r</text>
<text transform="translate(40.00,984.42) rotate(-90)" x="0" y="0" font-size="42.20" textLength="24.15" lengthAdjust="spacingAndGlyphs">o</text>
<text transform="translate(40.00,959.01) rotate(-90)" x="0" y="0" font-size="44.30" textLength="23.37" lengthAdjust="spacingAndGlyphs">b</text>
<text transform="translate(40.00,933.79) rotate(-90)" x="0" y="0" font-size="42.20" textLength="18.19" lengthAdjust="spacingAndGlyphs">a</text>
<text transform="translate(40.00,910.92) rotate(-90)" x="0" y="0" font-size="44.30" textLength="23.50" lengthAdjust="spacingAndGlyphs">b</text>
<text transform="translate(40.00,886.24) rotate(-90)" x="0" y="0" font-size="42.80" textLength="10.11" lengthAdjust="spacingAndGlyphs">i</text>
<text transform="translate(40.00,875.31) rotate(-90)" x="0" y="0" font-size="44.30" textLength="9.61" lengthAdjust="spacingAndGlyphs">l</text>
<text transform="translate(40.00,864.62) rotate(-90)" x="0" y="0" font-size="42.80" textLength="10.36" lengthAdjust="spacingAndGlyphs">i</text>
<text transform="translate(40.00,853.59) rotate(-90)" x="0" y="0" font-size="40.90" textLength="14.58" lengthAdjust="spacingAndGlyphs">t</text>
<text transform="translate(40.00,837.10) rotate(-90)" x="0" y="0" font-size="42.20" textLength="20.08" lengthAdjust="spacingAndGlyphs">y</text>
<rect x="249.30" y="1062.30" width="22.4" height="8.1" fill="#0f6b32"/>
<rect x="249.50" y="1106.90" width="8.2" height="4.0" fill="#0f5f2d"/>
<rect x="263.10" y="1106.90" width="8.4" height="4.0" fill="#0f5f2d"/>
<text x="284.52" y="1076.00" font-size="28.90" textLength="17.39" lengthAdjust="spacingAndGlyphs">R</text>
<text x="302.20" y="1076.00" font-size="27.30" textLength="15.64" lengthAdjust="spacingAndGlyphs">e</text>
<text x="319.92" y="1076.00" font-size="27.30" textLength="12.78" lengthAdjust="spacingAndGlyphs">a</text>
<text x="336.15" y="1076.00" font-size="29.90" textLength="7.08" lengthAdjust="spacingAndGlyphs">l</text>
<text x="351.18" y="1076.00" font-size="28.90" textLength="19.51" lengthAdjust="spacingAndGlyphs">D</text>
<text x="372.72" y="1076.00" font-size="27.30" textLength="12.78" lengthAdjust="spacingAndGlyphs">a</text>
<text x="388.64" y="1076.00" font-size="26.40" textLength="10.34" lengthAdjust="spacingAndGlyphs">t</text>
<text x="400.71" y="1076.00" font-size="27.30" textLength="12.99" lengthAdjust="spacingAndGlyphs">a</text>
<text x="283.84" y="1117.00" font-size="28.90" textLength="15.53" lengthAdjust="spacingAndGlyphs">S</text>
<text x="300.16" y="1117.00" font-size="29.90" textLength="16.35" lengthAdjust="spacingAndGlyphs">h</text>
<text x="318.30" y="1117.00" font-size="27.30" textLength="16.23" lengthAdjust="spacingAndGlyphs">u</text>
<text x="335.93" y="1117.00" font-size="29.90" textLength="11.11" lengthAdjust="spacingAndGlyphs">f</text>
<text x="344.77" y="1117.00" font-size="29.90" textLength="10.37" lengthAdjust="spacingAndGlyphs">f</text>
<text x="356.79" y="1117.00" font-size="29.90" textLength="5.31" lengthAdjust="spacingAndGlyphs">l</text>
<text x="364.59" y="1117.00" font-size="27.30" textLength="15.88" lengthAdjust="spacingAndGlyphs">e</text>
<text x="4.20" y="769.60" font-size="64.70" font-weight="bold" textLength="48.63" lengthAdjust="spacingAndGlyphs">D</text>
<!-- panel E -->
<g transform="scale(1.35,1)"><path d="M480.19,1142.99 L480.32,1142.69 L480.44,1142.38 L480.57,1142.08 L480.69,1141.77 L480.82,1141.47 L480.94,1141.16 L481.07,1140.86 L481.19,1140.56 L481.31,1140.25 L481.44,1139.95 L481.56,1139.64 L481.69,1139.34 L481.81,1139.03 L481.94,1138.73 L482.06,1138.43 L482.19,1138.12 L482.31,1137.82 L482.44,1137.51 L482.56,1137.21 L482.68,1136.91 L482.81,1136.60 L482.93,1136.30 L483.06,1135.99 L483.18,1135.69 L483.31,1135.38 L483.43,1135.08 L483.56,1134.78 L483.68,1134.47 M487.04,1126.26 L487.17,1125.95 L487.29,1125.65 L487.42,1125.34 L487.54,1125.04 L487.66,1124.73 L487.79,1124.43 L487.91,1124.13 L488.04,1123.82 L488.16,1123.52 L488.29,1123.21 L488.41,1122.91 L488.54,1122.61 L488.66,1122.30 L488.78,1122.00 L488.91,1121.69 L489.03,1121.39 L489.16,1121.08 L489.28,1120.78 L489.41,1120.48 L489.53,1120.17 L489.66,1119.87 L489.78,1119.56 L489.90,1119.26 L490.03,1118.95 L490.15,1118.65 L490.28,1118.35 L490.40,1118.04 M493.76,1109.83 L493.89,1109.52 L494.01,1109.22 L494.14,1108.91 L494.26,1108.61 L494.39,1108.31 L494.51,1108.00 L494.64,1107.70 L494.76,1107.39 L494.88,1107.09 L495.01,1106.78 L495.13,1106.48 L495.26,1106.18 L495.38,1105.87 L495.51,1105.57 L495.63,1105.26 L495.76,1104.96 L495.88,1104.65 L496.01,1104.35 L496.13,1104.05 L496.25,1103.74 L496.38,1103.44 L496.50,1103.13 L496.63,1102.83 L496.75,1102.52 L496.88,1102.22 L497.00,1101.92 L497.13,1101.61 L497.25,1101.31 M500.56,1093.21 L500.69,1092.91 L500.81,1092.61 L500.94,1092.30 L501.06,1092.00 L501.18,1091.69 L501.31,1091.39 L501.43,1091.08 L501.56,1090.78 L501.68,1090.48 L501.81,1090.17 L501.93,1089.87 L502.06,1089.56 L502.18,1089.26 L502.30,1088.95 L502.43,1088.65 L502.55,1088.35 L502.68,1088.04 L502.80,1087.74 L502.93,1087.43 L503.05,1087.13 L503.18,1086.83 L503.30,1086.52 L503.42,1086.22 L503.55,1085.91 L503.67,1085.61 L503.80,1085.30 L503.92,1085.00 L504.05,1084.70 M507.41,1076.48 L507.53,1076.18 L507.66,1075.87 L507.78,1075.57 L507.91,1075.27 L508.03,1074.96 L508.16,1074.66 L508.28,1074.36 L508.41,1074.05 L508.53,1073.75 L508.66,1073.44 L508.78,1073.14 L508.91,1072.84 L509.03,1072.53 L509.16,1072.23 L509.28,1071.93 L509.41,1071.62 L509.53,1071.32 L509.66,1071.02 L509.78,1070.71 L509.91,1070.41 L510.03,1070.11 L510.16,1069.80 L510.28,1069.50 L510.41,1069.20 L510.53,1068.89 L510.66,1068.59 L510.79,1068.29 M514.31,1059.81 L514.43,1059.51 L514.56,1059.21 L514.68,1058.91 L514.81,1058.61 L514.94,1058.30 L515.06,1058.00 L515.19,1057.70 L515.32,1057.40 L515.44,1057.10 L515.57,1056.80 L515.70,1056.49 L515.82,1056.19 L515.95,1055.89 L516.08,1055.59 L516.20,1055.29 L516.33,1054.99 L516.46,1054.69 L516.58,1054.39 L516.71,1054.08 L516.84,1053.78 L516.96,1053.48 L517.09,1053.18 L517.22,1052.88 L517.34,1052.58 L517.47,1052.28 L517.60,1051.98 L517.72,1051.68 M521.30,1043.28 L521.43,1042.98 L521.56,1042.68 L521.68,1042.38 L521.81,1042.08 L521.94,1041.78 L522.07,1041.48 L522.20,1041.19 L522.33,1040.89 L522.46,1040.59 L522.59,1040.29 L522.71,1039.99 L522.84,1039.69 L522.97,1039.40 L523.10,1039.10 L523.23,1038.80 L523.36,1038.50 L523.49,1038.20 L523.62,1037.90 L523.75,1037.61 L523.88,1037.31 L524.00,1037.01 L524.13,1036.71 L524.26,1036.42 L524.39,1036.12 L524.52,1035.82 L524.65,1035.52 L524.78,1035.23 M528.43,1026.93 L528.56,1026.63 L528.69,1026.34 L528.83,1026.04 L528.96,1025.75 L529.09,1025.45 L529.22,1025.16 L529.35,1024.86 L529.48,1024.57 L529.61,1024.27 L529.75,1023.98 L529.88,1023.69 L530.01,1023.39 L530.14,1023.10 L530.27,1022.80 L530.41,1022.51 L530.54,1022.22 L530.67,1021.92 L530.80,1021.63 L530.93,1021.33 L531.07,1021.04 L531.20,1020.75 L531.33,1020.45 L531.46,1020.16 L531.60,1019.87 L531.73,1019.57 L531.86,1019.28 L532.00,1018.99 L532.13,1018.69 M535.88,1010.53 L536.01,1010.24 L536.15,1009.95 L536.28,1009.66 L536.42,1009.37 L536.55,1009.08 L536.69,1008.79 L536.82,1008.50 L536.98,1008.15 L537.15,1007.80 L537.31,1007.46 L537.44,1007.17 L537.58,1006.88 L537.72,1006.59 L537.85,1006.30 L537.99,1006.01 L538.12,1005.72 L538.26,1005.43 L538.40,1005.15 L538.53,1004.86 L538.67,1004.57 L538.81,1004.28 L538.94,1003.99 L539.08,1003.71 L539.22,1003.42 L539.35,1003.13 L539.49,1002.84 L539.63,1002.55 L539.76,1002.27 M543.63,994.26 L543.77,993.98 L543.91,993.69 L544.05,993.41 L544.19,993.13 L544.33,992.84 L544.47,992.56 L544.61,992.28 L544.75,991.99 L544.89,991.71 L545.03,991.43 L545.17,991.14 L545.31,990.86 L545.45,990.58 L545.59,990.29 L545.73,990.01 L545.87,989.73 L546.01,989.45 L546.15,989.16 L546.29,988.88 L546.43,988.60 L546.57,988.32 L546.71,988.04 L546.86,987.75 L547.00,987.47 L547.14,987.19 L547.28,986.91 L547.42,986.63 L547.56,986.35 L547.71,986.07 M551.86,977.98 L552.00,977.70 L552.15,977.42 L552.29,977.15 L552.44,976.87 L552.58,976.59 L552.73,976.32 L552.87,976.04 L553.02,975.77 L553.16,975.49 L553.31,975.21 L553.46,974.94 L553.60,974.66 L553.75,974.39 L553.89,974.11 L554.04,973.84 L554.19,973.56 L554.33,973.29 L554.48,973.01 L554.63,972.74 L554.77,972.46 L554.92,972.19 L555.07,971.92 L555.21,971.64 L555.36,971.37 L555.51,971.09 L555.65,970.82 L555.80,970.55 L555.95,970.27 L556.10,970.00 M560.57,961.88 L560.72,961.61 L560.88,961.34 L561.03,961.07 L561.18,960.80 L561.33,960.53 L561.48,960.27 L561.63,960.00 L561.78,959.73 L561.94,959.46 L562.09,959.20 L562.24,958.93 L562.39,958.66 L562.54,958.40 L562.70,958.13 L562.85,957.86 L563.00,957.60 L563.16,957.33 L563.31,957.07 L563.46,956.80 L563.61,956.53 L563.77,956.27 L563.92,956.00 L564.07,955.74 L564.23,955.47 L564.38,955.21 L564.54,954.94 L564.69,954.68 L564.84,954.42 L565.00,954.15 L565.15,953.89 M569.68,946.31 L569.92,945.92 L570.16,945.53 L570.39,945.14 L570.63,944.75 L570.87,944.37 L571.11,943.98 L571.35,943.60 L571.59,943.21 L571.83,942.82 L572.07,942.44 L572.31,942.06 L572.55,941.67 L572.79,941.29 L573.03,940.90 L573.27,940.52 L573.51,940.14 L573.75,939.76 L574.00,939.38 L574.24,938.99 L574.48,938.61 L574.72,938.23 M579.65,930.71 L579.90,930.34 L580.15,929.97 L580.40,929.60 L580.65,929.23 L580.90,928.86 L581.15,928.49 L581.40,928.12 L581.66,927.75 L581.91,927.39 L582.11,927.09 L582.31,926.80 L582.51,926.50 L582.77,926.14 L583.02,925.77 L583.27,925.41 L583.53,925.04 L583.78,924.68 L584.04,924.31 L584.29,923.95 L584.55,923.58 L584.81,923.22 M590.52,915.35 L590.79,915.00 L591.05,914.65 L591.31,914.30 L591.58,913.95 L591.85,913.60 L592.11,913.25 L592.38,912.90 L592.64,912.55 L592.91,912.20 L593.18,911.85 L593.44,911.50 L593.71,911.16 L593.98,910.81 L594.25,910.46 L594.52,910.12 L594.79,909.77 L595.06,909.43 L595.33,909.09 L595.60,908.74 L595.87,908.40 L596.14,908.06 M602.20,900.65 L602.48,900.32 L602.76,899.99 L603.04,899.66 L603.32,899.33 L603.60,899.00 L603.88,898.67 L604.17,898.35 L604.45,898.02 L604.73,897.69 L605.01,897.37 L605.30,897.04 L605.58,896.72 L605.87,896.39 L606.15,896.07 L606.44,895.75 L606.72,895.42 L607.01,895.10 L607.30,894.78 L607.58,894.46 L607.87,894.14 L608.16,893.82 M614.89,886.61 L615.19,886.30 L615.48,886.00 L615.78,885.69 L616.08,885.39 L616.38,885.08 L616.68,884.78 L616.98,884.48 L617.28,884.17 L617.58,883.87 L617.88,883.57 L618.19,883.27 L618.49,882.97 L618.79,882.67 L619.10,882.37 L619.40,882.07 L619.70,881.77 L620.01,881.48 L620.31,881.18 L620.62,880.88 L620.92,880.59 L621.23,880.29 L621.54,880.00 M628.72,873.39 L629.03,873.11 L629.35,872.84 L629.67,872.56 L629.99,872.28 L630.31,872.00 L630.63,871.73 L630.95,871.45 L631.27,871.17 L631.59,870.90 L631.91,870.63 L632.23,870.35 L632.56,870.08 L632.88,869.81 L633.20,869.54 L633.53,869.26 L633.85,868.99 L634.18,868.72 L634.50,868.45 L634.83,868.19 L635.16,867.92 L635.48,867.65 L635.81,867.39 L636.14,867.12 M643.95,861.08 L644.29,860.83 L644.63,860.59 L644.97,860.34 L645.31,860.09 L645.65,859.84 L645.99,859.60 L646.34,859.35 L646.68,859.11 L647.02,858.86 L647.37,858.62 L647.71,858.37 L648.06,858.13 L648.40,857.89 L648.75,857.65 L649.10,857.41 L649.44,857.17 L649.79,856.93 L650.14,856.69 L650.49,856.45 L650.84,856.22 L651.19,855.98 L651.54,855.75 L651.89,855.51 L652.24,855.28 M660.47,850.09 L660.83,849.87 L661.20,849.65 L661.56,849.44 L661.93,849.22 L662.29,849.01 L662.66,848.80 L663.03,848.58 L663.39,848.37 L663.76,848.16 L664.13,847.95 L664.50,847.74 L664.87,847.53 L665.24,847.32 L665.61,847.11 L665.98,846.91 L666.36,846.70 L666.73,846.50 L667.10,846.29 L667.48,846.09 L667.85,845.88 L668.23,845.68 L668.60,845.48 L668.98,845.28 L669.35,845.08" fill="none" stroke="#9cbe28" stroke-width="2.1" stroke-linecap="butt" stroke-linejoin="round"/></g>
<g transform="scale(1.0,1)"><path d="M649.94,1134.64 L650.54,1132.45 L651.15,1130.27 L651.75,1128.08 L652.36,1125.90 L652.97,1123.72 L653.58,1121.54 L654.19,1119.36 L654.80,1117.18 L655.42,1115.01 L656.04,1112.84 L656.66,1110.67 L657.34,1108.29 L657.97,1106.12 L658.60,1103.96 L659.23,1101.80 L659.86,1099.64 L660.50,1097.49 L661.13,1095.34 L661.78,1093.19 L662.42,1091.04 L663.07,1088.90 L663.72,1086.76 L664.37,1084.63 L665.03,1082.49 L665.69,1080.37 L666.36,1078.24 L667.02,1076.12 L667.70,1074.00 L668.37,1071.89 L669.05,1069.78 L669.74,1067.67 L670.42,1065.57 L671.12,1063.47 L671.88,1061.17 L672.58,1059.08 L673.29,1056.99 L674.00,1054.91 L674.71,1052.84 L675.43,1050.77 L676.15,1048.70 L676.88,1046.64 L677.62,1044.58 L678.36,1042.53 L679.10,1040.49 L679.85,1038.45 L680.60,1036.41 L681.36,1034.38 L682.13,1032.36 L682.90,1030.34 L683.68,1028.32 L684.46,1026.32 L685.25,1024.31 L686.04,1022.32 L686.84,1020.33 L687.65,1018.35 L688.54,1016.17 L689.36,1014.20 L690.19,1012.24 L691.02,1010.28 L691.86,1008.33 L692.70,1006.38 L693.56,1004.45 L694.42,1002.51 L695.28,1000.59 L696.15,998.67 L697.03,996.76 L697.92,994.86 L698.82,992.97 L699.72,991.08 L700.63,989.20 L701.55,987.33 L702.47,985.46 L703.40,983.60 L704.34,981.75 L705.29,979.91 L706.25,978.08 L707.21,976.25 L708.28,974.25 L709.26,972.44 L710.25,970.64 L711.25,968.85 L712.26,967.07 L713.27,965.29 L714.30,963.53 L715.33,961.77 L716.37,960.02 L717.42,958.28 L718.48,956.55 L719.55,954.83 L720.63,953.12 L721.71,951.42 L722.81,949.72 L723.92,948.04 L725.03,946.37 L726.16,944.70 L727.29,943.05 L728.44,941.40 L729.59,939.77 L730.76,938.14 L732.05,936.37 L733.24,934.76 L734.44,933.17 L735.64,931.59 L736.86,930.02 L738.09,928.45 L739.33,926.90 L740.58,925.36 L741.84,923.83 L743.11,922.32 L744.39,920.81 L745.68,919.31 L746.99,917.83 L748.30,916.35 L749.63,914.89 L750.97,913.44 L752.32,912.00 L753.68,910.57 L755.06,909.15 L756.44,907.75 L757.84,906.36 L759.25,904.98 L760.81,903.47 L762.25,902.12 L763.69,900.77 L765.15,899.44 L766.62,898.12 L768.11,896.82 L769.61,895.53 L771.12,894.25 L772.64,892.98 L774.17,891.72 L775.72,890.48 L777.28,889.25 L778.86,888.04 L780.44,886.83 L782.05,885.65 L783.66,884.47 L785.29,883.31 L786.93,882.16 L788.58,881.02 L790.25,879.90 L791.94,878.80 L793.63,877.70 L795.51,876.52 L797.24,875.45 L798.98,874.40 L800.74,873.37 L802.51,872.35 L804.29,871.34 L806.09,870.35 L807.90,869.37 L809.73,868.41 L811.57,867.46 L813.43,866.53 L815.30,865.61 L817.19,864.71 L819.09,863.82 L821.01,862.95 L822.94,862.09 L824.89,861.25 L826.85,860.43 L828.83,859.62 L830.83,858.82 L832.84,858.04 L834.87,857.28 L837.11,856.46 L839.18,855.73 L841.25,855.02 L843.35,854.32 L845.46,853.64 L847.58,852.98 L849.72,852.33 L851.88,851.70 L854.06,851.09 L856.25,850.49 L858.46,849.91 L860.69,849.34 L862.93,848.80 L865.19,848.27 L867.47,847.76 L869.77,847.26 L872.08,846.79 L874.41,846.33 L876.76,845.88 L879.12,845.46 L881.50,845.05 L883.91,844.66 L886.57,844.26 L889.01,843.90 L891.46,843.57 L893.94,843.26 L896.43,842.96 L898.94,842.68 L901.47,842.42 L904.02,842.18 L906.59,841.96 L909.18,841.76 L911.78,841.57 L914.40,841.40" fill="none" stroke="#a5c820" stroke-width="7.8" stroke-linecap="butt" stroke-linejoin="round"/></g>
<path d="M643.00,837.95 L643.00,1178.00 M629.00,1159.00 L916.15,1159.00 M629.00,839.80 L644.85,839.80 M629.00,999.40 L644.85,999.40 M778.65,1157.15 L778.65,1178.00 M914.30,1157.15 L914.30,1178.00" fill="none" stroke="#141414" stroke-width="3.7" stroke-linecap="butt"/>
<text x="594.54" y="846.80" font-size="36.60" textLength="20.90" lengthAdjust="spacingAndGlyphs">1</text>
<text x="559.61" y="1006.80" font-size="36.60" textLength="22.57" lengthAdjust="spacingAndGlyphs">0</text>
<text x="581.20" y="1006.80" font-size="36.60" textLength="14.01" lengthAdjust="spacingAndGlyphs">.</text>
<text x="594.74" y="1006.80" font-size="36.60" textLength="20.29" lengthAdjust="spacingAndGlyphs">5</text>
<text x="593.81" y="1166.50" font-size="36.60" textLength="22.57" lengthAdjust="spacingAndGlyphs">0</text>
<text x="633.88" y="1218.60" font-size="36.60" textLength="20.24" lengthAdjust="spacingAndGlyphs">0</text>
<text x="759.24" y="1218.60" font-size="36.60" textLength="18.73" lengthAdjust="spacingAndGlyphs">8</text>
<text x="779.57" y="1218.60" font-size="36.60" textLength="18.53" lengthAdjust="spacingAndGlyphs">5</text>
<text x="884.66" y="1218.80" font-size="36.60" textLength="18.57" lengthAdjust="spacingAndGlyphs">1</text>
<text x="905.78" y="1218.80" font-size="36.60" textLength="17.62" lengthAdjust="spacingAndGlyphs">7</text>
<text x="923.77" y="1218.80" font-size="36.60" textLength="20.36" lengthAdjust="spacingAndGlyphs">0</text>
<text x="642.49" y="1273.80" font-size="43.30" textLength="20.43" lengthAdjust="spacingAndGlyphs">E</text>
<text x="663.86" y="1273.80" font-size="41.90" textLength="16.25" lengthAdjust="spacingAndGlyphs">r</text>
<text x="681.29" y="1273.80" font-size="41.90" textLength="16.12" lengthAdjust="spacingAndGlyphs">r</text>
<text x="697.15" y="1273.80" font-size="41.90" textLength="24.50" lengthAdjust="spacingAndGlyphs">o</text>
<text x="721.68" y="1273.80" font-size="41.90" textLength="16.65" lengthAdjust="spacingAndGlyphs">r</text>
<text x="748.72" y="1273.80" font-size="43.30" textLength="21.67" lengthAdjust="spacingAndGlyphs">S</text>
<text x="770.68" y="1273.80" font-size="40.60" textLength="11.37" lengthAdjust="spacingAndGlyphs">i</text>
<text x="782.33" y="1273.80" font-size="41.90" textLength="18.19" lengthAdjust="spacingAndGlyphs">z</text>
<text x="800.04" y="1273.80" font-size="41.90" textLength="22.99" lengthAdjust="spacingAndGlyphs">e</text>
<text x="835.76" y="1273.80" font-size="43.70" textLength="10.42" lengthAdjust="spacingAndGlyphs">(</text>
<text x="849.26" y="1273.80" font-size="41.90" textLength="19.25" lengthAdjust="spacingAndGlyphs">c</text>
<text x="869.68" y="1273.80" font-size="41.90" textLength="37.92" lengthAdjust="spacingAndGlyphs">m</text>
<text x="910.32" y="1273.80" font-size="43.70" textLength="10.42" lengthAdjust="spacingAndGlyphs">)</text>
<text transform="translate(540.80,1255.26) rotate(-90)" x="0" y="0" font-size="43.50" textLength="25.09" lengthAdjust="spacingAndGlyphs">C</text>
<text transform="translate(540.80,1228.95) rotate(-90)" x="0" y="0" font-size="42.20" textLength="23.57" lengthAdjust="spacingAndGlyphs">u</text>
<text transform="translate(540.80,1203.89) rotate(-90)" x="0" y="0" font-size="42.20" textLength="36.26" lengthAdjust="spacingAndGlyphs">m</text>
<text transform="translate(540.80,1165.71) rotate(-90)" x="0" y="0" font-size="42.20" textLength="23.17" lengthAdjust="spacingAndGlyphs">u</text>
<text transform="translate(540.80,1140.88) rotate(-90)" x="0" y="0" font-size="44.30" textLength="8.85" lengthAdjust="spacingAndGlyphs">l</text>
<text transform="translate(540.80,1129.91) rotate(-90)" x="0" y="0" font-size="42.20" textLength="18.41" lengthAdjust="spacingAndGlyphs">a</text>
<text transform="translate(540.80,1107.79) rotate(-90)" x="0" y="0" font-size="40.90" textLength="14.58" lengthAdjust="spacingAndGlyphs">t</text>
<text transform="translate(540.80,1091.19) rotate(-90)" x="0" y="0" font-size="42.80" textLength="8.59" lengthAdjust="spacingAndGlyphs">i</text>
<text transform="translate(540.80,1080.73) rotate(-90)" x="0" y="0" font-size="42.20" textLength="19.57" lengthAdjust="spacingAndGlyphs">v</text>
<text transform="translate(540.80,1059.29) rotate(-90)" x="0" y="0" font-size="42.20" textLength="22.16" lengthAdjust="spacingAndGlyphs">e</text>
<text transform="translate(540.80,1024.47) rotate(-90)" x="0" y="0" font-size="43.50" textLength="22.56" lengthAdjust="spacingAndGlyphs">P</text>
<text transform="translate(540.80,1000.18) rotate(-90)" x="0" y="0" font-size="42.20" textLength="14.92" lengthAdjust="spacingAndGlyphs">r</text>
<text transform="translate(540.80,984.42) rotate(-90)" x="0" y="0" font-size="42.20" textLength="24.15" lengthAdjust="spacingAndGlyphs">o</text>
<text transform="translate(540.80,959.01) rotate(-90)" x="0" y="0" font-size="44.30" textLength="23.37" lengthAdjust="spacingAndGlyphs">b</text>
<text transform="translate(540.80,933.79) rotate(-90)" x="0" y="0" font-size="42.20" textLength="18.19" lengthAdjust="spacingAndGlyphs">a</text>
<text transform="translate(540.80,910.92) rotate(-90)" x="0" y="0" font-size="44.30" textLength="23.50" lengthAdjust="spacingAndGlyphs">b</text>
<text transform="translate(540.80,886.24) rotate(-90)" x="0" y="0" font-size="42.80" textLength="10.11" lengthAdjust="spacingAndGlyphs">i</text>
<text transform="translate(540.80,875.31) rotate(-90)" x="0" y="0" font-size="44.30" textLength="9.61" lengthAdjust="spacingAndGlyphs">l</text>
<text transform="translate(540.80,864.62) rotate(-90)" x="0" y="0" font-size="42.80" textLength="10.36" lengthAdjust="spacingAndGlyphs">i</text>
<text transform="translate(540.80,853.59) rotate(-90)" x="0" y="0" font-size="40.90" textLength="14.58" lengthAdjust="spacingAndGlyphs">t</text>
<text transform="translate(540.80,837.10) rotate(-90)" x="0" y="0" font-size="42.20" textLength="20.08" lengthAdjust="spacingAndGlyphs">y</text>
<rect x="748.50" y="1062.90" width="22.4" height="8.1" fill="#a5c820"/>
<rect x="748.70" y="1107.50" width="8.2" height="4.0" fill="#9cbe28"/>
<rect x="762.30" y="1107.50" width="8.4" height="4.0" fill="#9cbe28"/>
<text x="783.72" y="1076.60" font-size="28.90" textLength="17.39" lengthAdjust="spacingAndGlyphs">R</text>
<text x="801.40" y="1076.60" font-size="27.30" textLength="15.64" lengthAdjust="spacingAndGlyphs">e</text>
<text x="819.12" y="1076.60" font-size="27.30" textLength="12.78" lengthAdjust="spacingAndGlyphs">a</text>
<text x="835.35" y="1076.60" font-size="29.90" textLength="7.08" lengthAdjust="spacingAndGlyphs">l</text>
<text x="850.38" y="1076.60" font-size="28.90" textLength="19.51" lengthAdjust="spacingAndGlyphs">D</text>
<text x="871.92" y="1076.60" font-size="27.30" textLength="12.78" lengthAdjust="spacingAndGlyphs">a</text>
<text x="887.84" y="1076.60" font-size="26.40" textLength="10.34" lengthAdjust="spacingAndGlyphs">t</text>
<text x="899.91" y="1076.60" font-size="27.30" textLength="12.99" lengthAdjust="spacingAndGlyphs">a</text>
<text x="783.04" y="1117.60" font-size="28.90" textLength="15.53" lengthAdjust="spacingAndGlyphs">S</text>
<text x="799.36" y="1117.60" font-size="29.90" textLength="16.35" lengthAdjust="spacingAndGlyphs">h</text>
<text x="817.50" y="1117.60" font-size="27.30" textLength="16.23" lengthAdjust="spacingAndGlyphs">u</text>
<text x="835.13" y="1117.60" font-size="29.90" textLength="11.11" lengthAdjust="spacingAndGlyphs">f</text>
<text x="843.97" y="1117.60" font-size="29.90" textLength="10.37" lengthAdjust="spacingAndGlyphs">f</text>
<text x="855.99" y="1117.60" font-size="29.90" textLength="5.31" lengthAdjust="spacingAndGlyphs">l</text>
<text x="863.79" y="1117.60" font-size="27.30" textLength="15.88" lengthAdjust="spacingAndGlyphs">e</text>
<text x="511.35" y="769.60" font-size="64.70" font-weight="bold" textLength="34.36" lengthAdjust="spacingAndGlyphs">E</text>
<!-- panel F -->
<g transform="scale(1.35,1)"><path d="M849.82,1141.66 L849.94,1141.35 L850.06,1141.04 L850.18,1140.73 L850.30,1140.42 L850.42,1140.11 L850.54,1139.80 L850.66,1139.49 L850.78,1139.18 L850.90,1138.88 L851.02,1138.57 L851.14,1138.26 L851.26,1137.95 L851.38,1137.64 L851.50,1137.33 L851.62,1137.02 L851.74,1136.71 L851.86,1136.40 L851.98,1136.09 L852.10,1135.78 L852.22,1135.47 L852.34,1135.16 L852.46,1134.85 L852.58,1134.54 L852.70,1134.23 L852.82,1133.92 L852.93,1133.61 M856.17,1125.25 L856.29,1124.94 L856.41,1124.63 L856.53,1124.32 L856.65,1124.02 L856.76,1123.71 L856.88,1123.40 L857.00,1123.09 L857.12,1122.78 L857.24,1122.47 L857.36,1122.16 L857.48,1121.85 L857.60,1121.54 L857.72,1121.23 L857.84,1120.92 L857.96,1120.61 L858.08,1120.30 L858.20,1119.99 L858.32,1119.68 L858.44,1119.37 L858.56,1119.06 L858.68,1118.75 L858.80,1118.44 L858.92,1118.13 L859.04,1117.82 L859.16,1117.51 L859.28,1117.20 L859.40,1116.90 M862.63,1108.54 L862.75,1108.23 L862.87,1107.92 L862.99,1107.62 L863.11,1107.31 L863.23,1107.00 L863.35,1106.69 L863.47,1106.38 L863.59,1106.07 L863.71,1105.76 L863.83,1105.45 L863.95,1105.14 L864.07,1104.83 L864.19,1104.52 L864.32,1104.22 L864.44,1103.91 L864.56,1103.60 L864.68,1103.29 L864.80,1102.98 L864.92,1102.67 L865.04,1102.36 L865.16,1102.05 L865.28,1101.75 L865.40,1101.44 L865.52,1101.13 L865.64,1100.82 L865.76,1100.51 L865.88,1100.20 M869.09,1092.00 L869.21,1091.69 L869.33,1091.39 L869.45,1091.08 L869.57,1090.77 L869.69,1090.46 L869.81,1090.16 L869.94,1089.85 L870.06,1089.54 L870.18,1089.23 L870.30,1088.93 L870.42,1088.62 L870.54,1088.31 L870.66,1088.00 L870.78,1087.70 L870.91,1087.39 L871.03,1087.08 L871.15,1086.77 L871.27,1086.47 L871.39,1086.16 L871.51,1085.85 L871.63,1085.54 L871.76,1085.24 L871.88,1084.93 L872.00,1084.62 L872.12,1084.32 L872.24,1084.01 L872.36,1083.70 M875.66,1075.43 L875.78,1075.12 L875.90,1074.82 L876.03,1074.51 L876.15,1074.21 L876.27,1073.90 L876.39,1073.60 L876.52,1073.29 L876.64,1072.99 L876.76,1072.68 L876.89,1072.37 L877.01,1072.07 L877.13,1071.76 L877.25,1071.46 L877.38,1071.15 L877.50,1070.85 L877.62,1070.54 L877.75,1070.24 L877.87,1069.93 L877.99,1069.63 L878.12,1069.32 L878.24,1069.02 L878.36,1068.71 L878.49,1068.41 L878.61,1068.11 L878.73,1067.80 L878.86,1067.50 L878.98,1067.19 L879.10,1066.89 M882.45,1058.69 L882.58,1058.39 L882.70,1058.09 L882.83,1057.78 L882.95,1057.48 L883.08,1057.18 L883.20,1056.88 L883.33,1056.57 L883.45,1056.27 L883.58,1055.97 L883.70,1055.67 L883.83,1055.36 L883.95,1055.06 L884.08,1054.76 L884.20,1054.46 L884.33,1054.16 L884.46,1053.85 L884.58,1053.55 L884.71,1053.25 L884.83,1052.95 L884.96,1052.65 L885.08,1052.35 L885.21,1052.04 L885.34,1051.74 L885.46,1051.44 L885.59,1051.14 L885.71,1050.84 L885.84,1050.54 M889.39,1042.14 L889.52,1041.84 L889.64,1041.54 L889.77,1041.24 L889.90,1040.94 L890.03,1040.64 L890.15,1040.35 L890.28,1040.05 L890.41,1039.75 L890.54,1039.45 L890.67,1039.15 L890.79,1038.85 L890.92,1038.56 L891.05,1038.26 L891.18,1037.96 L891.31,1037.66 L891.44,1037.36 L891.56,1037.07 L891.69,1036.77 L891.82,1036.47 L891.95,1036.17 L892.08,1035.88 L892.21,1035.58 L892.34,1035.28 L892.47,1034.99 L892.60,1034.69 L892.72,1034.39 L892.85,1034.09 L892.98,1033.80 M896.50,1025.82 L896.63,1025.52 L896.76,1025.23 L896.89,1024.94 L897.02,1024.64 L897.15,1024.35 L897.28,1024.05 L897.41,1023.76 L897.55,1023.47 L897.68,1023.17 L897.81,1022.88 L897.94,1022.59 L898.07,1022.29 L898.20,1022.00 L898.34,1021.71 L898.47,1021.41 L898.60,1021.12 L898.73,1020.83 L898.86,1020.54 L899.00,1020.24 L899.13,1019.95 L899.26,1019.66 L899.39,1019.37 L899.53,1019.07 L899.66,1018.78 L899.79,1018.49 L899.92,1018.20 L900.06,1017.91 L900.19,1017.62 L900.32,1017.32 M904.08,1009.20 L904.21,1008.91 L904.35,1008.62 L904.49,1008.34 L904.62,1008.05 L904.76,1007.76 L904.89,1007.47 L905.03,1007.18 L905.16,1006.90 L905.30,1006.61 L905.44,1006.32 L905.57,1006.03 L905.74,1005.69 L905.90,1005.34 L906.06,1005.00 L906.20,1004.71 L906.34,1004.43 L906.47,1004.14 L906.61,1003.85 L906.75,1003.57 L906.88,1003.28 L907.02,1002.99 L907.16,1002.71 L907.29,1002.42 L907.43,1002.14 L907.57,1001.85 L907.71,1001.56 L907.84,1001.28 L907.98,1000.99 M911.87,993.05 L912.01,992.77 L912.15,992.49 L912.29,992.20 L912.43,991.92 L912.57,991.64 L912.71,991.36 L912.85,991.08 L912.99,990.80 L913.13,990.52 L913.27,990.24 L913.41,989.95 L913.56,989.67 L913.70,989.39 L913.84,989.11 L913.98,988.83 L914.12,988.55 L914.26,988.27 L914.40,987.99 L914.55,987.71 L914.69,987.43 L914.83,987.15 L914.97,986.88 L915.11,986.60 L915.26,986.32 L915.40,986.04 L915.54,985.76 L915.68,985.48 L915.83,985.20 L915.97,984.92 M920.15,976.91 L920.30,976.64 L920.45,976.36 L920.59,976.09 L920.74,975.81 L920.88,975.54 L921.03,975.27 L921.18,974.99 L921.32,974.72 L921.47,974.45 L921.62,974.17 L921.76,973.90 L921.91,973.63 L922.06,973.35 L922.21,973.08 L922.35,972.81 L922.50,972.54 L922.65,972.27 L922.80,971.99 L922.94,971.72 L923.09,971.45 L923.24,971.18 L923.39,970.91 L923.53,970.64 L923.68,970.37 L923.83,970.09 L923.98,969.82 L924.13,969.55 L924.28,969.28 L924.43,969.01 L924.58,968.74 M928.94,960.97 L929.09,960.71 L929.25,960.44 L929.40,960.18 L929.55,959.91 L929.71,959.65 L929.86,959.38 L930.01,959.12 L930.16,958.86 L930.32,958.59 L930.47,958.33 L930.62,958.06 L930.78,957.80 L930.93,957.54 L931.09,957.27 L931.24,957.01 L931.47,956.61 L931.70,956.22 L931.93,955.83 L932.17,955.43 L932.40,955.04 L932.63,954.65 L932.86,954.25 L933.10,953.86 L933.33,953.47 L933.56,953.08 M938.53,944.95 L938.77,944.56 L939.01,944.18 L939.25,943.80 L939.49,943.42 L939.73,943.04 L939.98,942.65 L940.22,942.27 L940.46,941.89 L940.70,941.51 L940.94,941.13 L941.19,940.76 L941.43,940.38 L941.67,940.00 L941.92,939.62 L942.16,939.24 L942.40,938.87 L942.65,938.49 L942.89,938.11 L943.14,937.74 L943.38,937.36 M948.61,929.57 L948.86,929.21 L949.11,928.84 L949.37,928.48 L949.62,928.11 L949.87,927.75 L950.13,927.38 L950.38,927.02 L950.64,926.66 L950.89,926.29 L951.15,925.93 L951.35,925.64 L951.56,925.35 L951.76,925.06 L952.02,924.70 L952.27,924.34 L952.53,923.98 L952.79,923.62 L953.05,923.27 L953.30,922.91 L953.56,922.55 L953.82,922.19 M959.59,914.44 L959.86,914.09 L960.13,913.74 L960.39,913.40 L960.66,913.05 L960.93,912.71 L961.20,912.36 L961.47,912.02 L961.73,911.67 L962.00,911.33 L962.27,910.99 L962.54,910.64 L962.81,910.30 L963.08,909.96 L963.35,909.62 L963.63,909.28 L963.90,908.94 L964.17,908.60 L964.44,908.26 L964.71,907.92 L964.99,907.58 L965.26,907.25 M971.37,899.95 L971.65,899.62 L971.93,899.30 L972.22,898.97 L972.50,898.65 L972.78,898.32 L973.07,898.00 L973.35,897.67 L973.64,897.35 L973.92,897.03 L974.21,896.71 L974.49,896.39 L974.78,896.07 L975.07,895.75 L975.35,895.43 L975.64,895.11 L975.93,894.79 L976.22,894.47 L976.50,894.16 L976.79,893.84 L977.08,893.52 L977.37,893.21 L977.66,892.89 M984.14,886.09 L984.44,885.79 L984.74,885.49 L985.04,885.19 L985.34,884.89 L985.64,884.59 L985.95,884.29 L986.25,883.99 L986.55,883.69 L986.85,883.39 L987.15,883.09 L987.46,882.79 L987.76,882.50 L988.07,882.20 L988.37,881.91 L988.68,881.61 L988.98,881.32 L989.29,881.02 L989.59,880.73 L989.90,880.44 L990.21,880.15 L990.51,879.85 L990.82,879.56 L991.13,879.27 M998.34,872.75 L998.66,872.48 L998.98,872.20 L999.30,871.93 L999.62,871.65 L999.94,871.38 L1000.26,871.10 L1000.58,870.83 L1000.91,870.56 L1001.23,870.29 L1001.55,870.02 L1001.87,869.75 L1002.20,869.48 L1002.52,869.21 L1002.85,868.94 L1003.17,868.67 L1003.50,868.40 L1003.82,868.14 L1004.15,867.87 L1004.48,867.60 L1004.80,867.34 L1005.13,867.08 L1005.46,866.81 L1005.79,866.55 M1013.61,860.57 L1013.95,860.32 L1014.29,860.08 L1014.63,859.83 L1014.97,859.58 L1015.31,859.34 L1015.66,859.09 L1016.00,858.85 L1016.34,858.61 L1016.68,858.36 L1017.03,858.12 L1017.37,857.88 L1017.72,857.64 L1018.06,857.40 L1018.41,857.16 L1018.76,856.92 L1019.10,856.68 L1019.45,856.44 L1019.80,856.21 L1020.15,855.97 L1020.50,855.74 L1020.85,855.50 L1021.20,855.27 L1021.55,855.03 L1021.90,854.80 M1030.11,849.63 L1030.47,849.41 L1030.83,849.19 L1031.20,848.98 L1031.56,848.76 L1031.93,848.55 L1032.29,848.34 L1032.66,848.12 L1033.02,847.91 L1033.39,847.70 L1033.76,847.49 L1034.13,847.28 L1034.50,847.07 L1034.87,846.86 L1035.23,846.65 L1035.60,846.45 L1035.98,846.24 L1036.35,846.04 L1036.72,845.83 L1037.09,845.63 L1037.46,845.42 L1037.84,845.22 L1038.21,845.02 L1038.58,844.82 L1038.96,844.61" fill="none" stroke="#dc7a1a" stroke-width="2.1" stroke-linecap="butt" stroke-linejoin="round"/></g>
<g transform="scale(1.0,1)"><path d="M1148.13,1138.83 L1148.82,1136.70 L1149.51,1134.57 L1150.20,1132.45 L1150.90,1130.33 L1151.59,1128.20 L1152.29,1126.09 L1152.99,1123.97 L1153.70,1121.85 L1154.40,1119.74 L1155.11,1117.63 L1155.82,1115.52 L1156.60,1113.20 L1157.31,1111.10 L1158.03,1108.99 L1158.75,1106.89 L1159.47,1104.80 L1160.19,1102.70 L1160.92,1100.61 L1161.64,1098.52 L1162.38,1096.44 L1163.11,1094.35 L1163.85,1092.27 L1164.59,1090.20 L1165.33,1088.12 L1166.08,1086.05 L1166.83,1083.98 L1167.58,1081.92 L1168.34,1079.86 L1169.10,1077.80 L1169.87,1075.75 L1170.63,1073.70 L1171.41,1071.65 L1172.18,1069.61 L1173.04,1067.37 L1173.82,1065.33 L1174.61,1063.30 L1175.40,1061.28 L1176.20,1059.26 L1177.00,1057.24 L1177.80,1055.23 L1178.61,1053.22 L1179.43,1051.21 L1180.25,1049.21 L1181.07,1047.22 L1181.90,1045.23 L1182.73,1043.24 L1183.57,1041.26 L1184.41,1039.29 L1185.26,1037.32 L1186.11,1035.35 L1186.97,1033.39 L1187.83,1031.44 L1188.70,1029.49 L1189.57,1027.54 L1190.45,1025.60 L1191.42,1023.48 L1192.32,1021.55 L1193.21,1019.63 L1194.12,1017.71 L1195.02,1015.80 L1195.94,1013.90 L1196.86,1012.00 L1197.78,1010.11 L1198.72,1008.23 L1199.66,1006.35 L1200.60,1004.47 L1201.55,1002.61 L1202.51,1000.75 L1203.48,998.89 L1204.45,997.05 L1205.42,995.21 L1206.41,993.37 L1207.40,991.55 L1208.40,989.73 L1209.40,987.92 L1210.42,986.11 L1211.44,984.31 L1212.57,982.34 L1213.60,980.56 L1214.64,978.78 L1215.69,977.02 L1216.75,975.25 L1217.82,973.50 L1218.89,971.76 L1219.97,970.02 L1221.06,968.29 L1222.15,966.57 L1223.26,964.85 L1224.37,963.15 L1225.49,961.45 L1226.62,959.76 L1227.75,958.08 L1228.90,956.41 L1230.05,954.74 L1231.21,953.09 L1232.39,951.44 L1233.56,949.80 L1234.75,948.17 L1235.95,946.55 L1237.28,944.78 L1238.49,943.17 L1239.72,941.58 L1240.95,940.00 L1242.19,938.42 L1243.45,936.86 L1244.71,935.30 L1245.98,933.75 L1247.26,932.22 L1248.55,930.69 L1249.85,929.17 L1251.16,927.66 L1252.48,926.16 L1253.81,924.67 L1255.15,923.20 L1256.49,921.73 L1257.85,920.27 L1259.22,918.82 L1260.60,917.38 L1261.99,915.95 L1263.39,914.54 L1264.80,913.13 L1266.37,911.59 L1267.80,910.21 L1269.25,908.83 L1270.70,907.47 L1272.17,906.12 L1273.64,904.78 L1275.13,903.45 L1276.63,902.13 L1278.14,900.82 L1279.66,899.52 L1281.19,898.24 L1282.73,896.96 L1284.29,895.70 L1285.86,894.45 L1287.43,893.21 L1289.02,891.98 L1290.63,890.76 L1292.24,889.56 L1293.86,888.37 L1295.50,887.19 L1297.15,886.02 L1298.81,884.86 L1300.65,883.60 L1302.34,882.47 L1304.04,881.35 L1305.75,880.25 L1307.48,879.16 L1309.22,878.08 L1310.97,877.01 L1312.73,875.95 L1314.50,874.91 L1316.29,873.88 L1318.09,872.86 L1319.91,871.86 L1321.74,870.87 L1323.58,869.89 L1325.43,868.93 L1327.30,867.98 L1329.18,867.04 L1331.07,866.12 L1332.98,865.21 L1334.90,864.31 L1336.84,863.43 L1338.79,862.56 L1340.95,861.62 L1342.93,860.78 L1344.92,859.96 L1346.93,859.15 L1348.95,858.35 L1350.98,857.57 L1353.03,856.80 L1355.10,856.04 L1357.17,855.30 L1359.27,854.58 L1361.37,853.87 L1363.50,853.17 L1365.63,852.49 L1367.79,851.83 L1369.95,851.17 L1372.13,850.54 L1374.33,849.92 L1376.54,849.31 L1378.77,848.72 L1381.01,848.15 L1383.27,847.59 L1385.54,847.04 L1388.06,846.46 L1390.37,845.95 L1392.69,845.45 L1395.03,844.97 L1397.38,844.51 L1399.75,844.06 L1402.14,843.63 L1404.54,843.21 L1406.96,842.81 L1409.39,842.43 L1411.84,842.06 L1414.31,841.71" fill="none" stroke="#e8800e" stroke-width="7.8" stroke-linecap="butt" stroke-linejoin="round"/></g>
<path d="M1141.50,837.95 L1141.50,1178.00 M1127.50,1159.00 L1414.65,1159.00 M1127.50,839.80 L1143.35,839.80 M1127.50,999.40 L1143.35,999.40 M1277.15,1157.15 L1277.15,1178.00 M1412.80,1157.15 L1412.80,1178.00" fill="none" stroke="#141414" stroke-width="3.7" stroke-linecap="butt"/>
<text x="1093.04" y="846.80" font-size="36.60" textLength="20.90" lengthAdjust="spacingAndGlyphs">1</text>
<text x="1058.11" y="1006.80" font-size="36.60" textLength="22.57" lengthAdjust="spacingAndGlyphs">0</text>
<text x="1079.70" y="1006.80" font-size="36.60" textLength="14.01" lengthAdjust="spacingAndGlyphs">.</text>
<text x="1093.24" y="1006.80" font-size="36.60" textLength="20.29" lengthAdjust="spacingAndGlyphs">5</text>
<text x="1092.31" y="1166.50" font-size="36.60" textLength="22.57" lengthAdjust="spacingAndGlyphs">0</text>
<text x="1132.38" y="1218.60" font-size="36.60" textLength="20.24" lengthAdjust="spacingAndGlyphs">0</text>
<text x="1257.74" y="1218.60" font-size="36.60" textLength="18.73" lengthAdjust="spacingAndGlyphs">8</text>
<text x="1278.07" y="1218.60" font-size="36.60" textLength="18.53" lengthAdjust="spacingAndGlyphs">5</text>
<text x="1383.16" y="1218.80" font-size="36.60" textLength="18.57" lengthAdjust="spacingAndGlyphs">1</text>
<text x="1404.28" y="1218.80" font-size="36.60" textLength="17.62" lengthAdjust="spacingAndGlyphs">7</text>
<text x="1422.27" y="1218.80" font-size="36.60" textLength="20.36" lengthAdjust="spacingAndGlyphs">0</text>
<text x="1140.99" y="1273.80" font-size="43.30" textLength="20.43" lengthAdjust="spacingAndGlyphs">E</text>
<text x="1162.36" y="1273.80" font-size="41.90" textLength="16.25" lengthAdjust="spacingAndGlyphs">r</text>
<text x="1179.79" y="1273.80" font-size="41.90" textLength="16.12" lengthAdjust="spacingAndGlyphs">r</text>
<text x="1195.65" y="1273.80" font-size="41.90" textLength="24.50" lengthAdjust="spacingAndGlyphs">o</text>
<text x="1220.18" y="1273.80" font-size="41.90" textLength="16.65" lengthAdjust="spacingAndGlyphs">r</text>
<text x="1247.22" y="1273.80" font-size="43.30" textLength="21.67" lengthAdjust="spacingAndGlyphs">S</text>
<text x="1269.17" y="1273.80" font-size="40.60" textLength="11.37" lengthAdjust="spacingAndGlyphs">i</text>
<text x="1280.83" y="1273.80" font-size="41.90" textLength="18.19" lengthAdjust="spacingAndGlyphs">z</text>
<text x="1298.54" y="1273.80" font-size="41.90" textLength="22.99" lengthAdjust="spacingAndGlyphs">e</text>
<text x="1334.26" y="1273.80" font-size="43.70" textLength="10.42" lengthAdjust="spacingAndGlyphs">(</text>
<text x="1347.76" y="1273.80" font-size="41.90" textLength="19.25" lengthAdjust="spacingAndGlyphs">c</text>
<text x="1368.18" y="1273.80" font-size="41.90" textLength="37.92" lengthAdjust="spacingAndGlyphs">m</text>
<text x="1408.82" y="1273.80" font-size="43.70" textLength="10.42" lengthAdjust="spacingAndGlyphs">)</text>
<text transform="translate(1039.30,1255.26) rotate(-90)" x="0" y="0" font-size="43.50" textLength="25.09" lengthAdjust="spacingAndGlyphs">C</text>
<text transform="translate(1039.30,1228.95) rotate(-90)" x="0" y="0" font-size="42.20" textLength="23.57" lengthAdjust="spacingAndGlyphs">u</text>
<text transform="translate(1039.30,1203.89) rotate(-90)" x="0" y="0" font-size="42.20" textLength="36.26" lengthAdjust="spacingAndGlyphs">m</text>
<text transform="translate(1039.30,1165.71) rotate(-90)" x="0" y="0" font-size="42.20" textLength="23.17" lengthAdjust="spacingAndGlyphs">u</text>
<text transform="translate(1039.30,1140.88) rotate(-90)" x="0" y="0" font-size="44.30" textLength="8.85" lengthAdjust="spacingAndGlyphs">l</text>
<text transform="translate(1039.30,1129.91) rotate(-90)" x="0" y="0" font-size="42.20" textLength="18.41" lengthAdjust="spacingAndGlyphs">a</text>
<text transform="translate(1039.30,1107.79) rotate(-90)" x="0" y="0" font-size="40.90" textLength="14.58" lengthAdjust="spacingAndGlyphs">t</text>
<text transform="translate(1039.30,1091.19) rotate(-90)" x="0" y="0" font-size="42.80" textLength="8.59" lengthAdjust="spacingAndGlyphs">i</text>
<text transform="translate(1039.30,1080.73) rotate(-90)" x="0" y="0" font-size="42.20" textLength="19.57" lengthAdjust="spacingAndGlyphs">v</text>
<text transform="translate(1039.30,1059.29) rotate(-90)" x="0" y="0" font-size="42.20" textLength="22.16" lengthAdjust="spacingAndGlyphs">e</text>
<text transform="translate(1039.30,1024.47) rotate(-90)" x="0" y="0" font-size="43.50" textLength="22.56" lengthAdjust="spacingAndGlyphs">P</text>
<text transform="translate(1039.30,1000.18) rotate(-90)" x="0" y="0" font-size="42.20" textLength="14.92" lengthAdjust="spacingAndGlyphs">r</text>
<text transform="translate(1039.30,984.42) rotate(-90)" x="0" y="0" font-size="42.20" textLength="24.15" lengthAdjust="spacingAndGlyphs">o</text>
<text transform="translate(1039.30,959.01) rotate(-90)" x="0" y="0" font-size="44.30" textLength="23.37" lengthAdjust="spacingAndGlyphs">b</text>
<text transform="translate(1039.30,933.79) rotate(-90)" x="0" y="0" font-size="42.20" textLength="18.19" lengthAdjust="spacingAndGlyphs">a</text>
<text transform="translate(1039.30,910.92) rotate(-90)" x="0" y="0" font-size="44.30" textLength="23.50" lengthAdjust="spacingAndGlyphs">b</text>
<text transform="translate(1039.30,886.24) rotate(-90)" x="0" y="0" font-size="42.80" textLength="10.11" lengthAdjust="spacingAndGlyphs">i</text>
<text transform="translate(1039.30,875.31) rotate(-90)" x="0" y="0" font-size="44.30" textLength="9.61" lengthAdjust="spacingAndGlyphs">l</text>
<text transform="translate(1039.30,864.62) rotate(-90)" x="0" y="0" font-size="42.80" textLength="10.36" lengthAdjust="spacingAndGlyphs">i</text>
<text transform="translate(1039.30,853.59) rotate(-90)" x="0" y="0" font-size="40.90" textLength="14.58" lengthAdjust="spacingAndGlyphs">t</text>
<text transform="translate(1039.30,837.10) rotate(-90)" x="0" y="0" font-size="42.20" textLength="20.08" lengthAdjust="spacingAndGlyphs">y</text>
<rect x="1248.20" y="1062.30" width="22.4" height="8.1" fill="#e8800e"/>
<rect x="1248.40" y="1106.90" width="8.2" height="4.0" fill="#dc7a1a"/>
<rect x="1262.00" y="1106.90" width="8.4" height="4.0" fill="#dc7a1a"/>
<text x="1283.42" y="1076.00" font-size="28.90" textLength="17.39" lengthAdjust="spacingAndGlyphs">R</text>
<text x="1301.10" y="1076.00" font-size="27.30" textLength="15.64" lengthAdjust="spacingAndGlyphs">e</text>
<text x="1318.82" y="1076.00" font-size="27.30" textLength="12.78" lengthAdjust="spacingAndGlyphs">a</text>
<text x="1335.05" y="1076.00" font-size="29.90" textLength="7.08" lengthAdjust="spacingAndGlyphs">l</text>
<text x="1350.08" y="1076.00" font-size="28.90" textLength="19.51" lengthAdjust="spacingAndGlyphs">D</text>
<text x="1371.62" y="1076.00" font-size="27.30" textLength="12.78" lengthAdjust="spacingAndGlyphs">a</text>
<text x="1387.54" y="1076.00" font-size="26.40" textLength="10.34" lengthAdjust="spacingAndGlyphs">t</text>
<text x="1399.61" y="1076.00" font-size="27.30" textLength="12.99" lengthAdjust="spacingAndGlyphs">a</text>
<text x="1282.74" y="1117.00" font-size="28.90" textLength="15.53" lengthAdjust="spacingAndGlyphs">S</text>
<text x="1299.06" y="1117.00" font-size="29.90" textLength="16.35" lengthAdjust="spacingAndGlyphs">h</text>
<text x="1317.20" y="1117.00" font-size="27.30" textLength="16.23" lengthAdjust="spacingAndGlyphs">u</text>
<text x="1334.83" y="1117.00" font-size="29.90" textLength="11.11" lengthAdjust="spacingAndGlyphs">f</text>
<text x="1343.67" y="1117.00" font-size="29.90" textLength="10.37" lengthAdjust="spacingAndGlyphs">f</text>
<text x="1355.69" y="1117.00" font-size="29.90" textLength="5.31" lengthAdjust="spacingAndGlyphs">l</text>
<text x="1363.49" y="1117.00" font-size="27.30" textLength="15.88" lengthAdjust="spacingAndGlyphs">e</text>
<text x="1011.19" y="769.90" font-size="64.70" font-weight="bold" textLength="32.99" lengthAdjust="spacingAndGlyphs">F</text>
</svg></body></html>
